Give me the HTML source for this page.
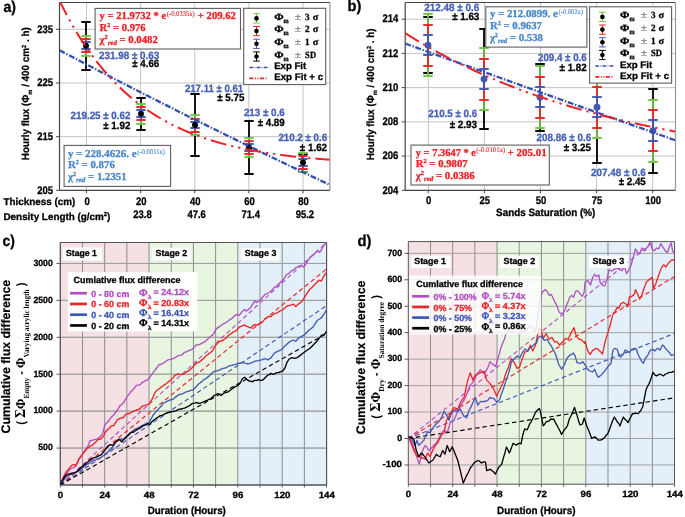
<!DOCTYPE html>
<html><head><meta charset="utf-8"><title>Figure</title>
<style>html,body{margin:0;padding:0;background:#fff;}svg{display:block;} text{text-rendering:geometricPrecision;}</style>
</head><body>
<svg style="filter:blur(0.3px)" width="685" height="517" viewBox="0 0 685 517">
<rect x="0" y="0" width="685" height="517" fill="#fff"/>
<line x1="86.5" y1="2.5" x2="86.5" y2="190.3" stroke="#c4c4c4" stroke-width="1" />
<line x1="140.62" y1="2.5" x2="140.62" y2="190.3" stroke="#c4c4c4" stroke-width="1" />
<line x1="194.74" y1="2.5" x2="194.74" y2="190.3" stroke="#c4c4c4" stroke-width="1" />
<line x1="248.86" y1="2.5" x2="248.86" y2="190.3" stroke="#c4c4c4" stroke-width="1" />
<line x1="302.98" y1="2.5" x2="302.98" y2="190.3" stroke="#c4c4c4" stroke-width="1" />
<line x1="59.5" y1="136.65" x2="329.9" y2="136.65" stroke="#c4c4c4" stroke-width="1" />
<line x1="59.5" y1="83" x2="329.9" y2="83" stroke="#c4c4c4" stroke-width="1" />
<line x1="59.5" y1="29.35" x2="329.9" y2="29.35" stroke="#c4c4c4" stroke-width="1" />
<line x1="59.5" y1="2.5" x2="329.9" y2="2.5" stroke="#444" stroke-width="1" />
<line x1="329.9" y1="2.5" x2="329.9" y2="190.3" stroke="#999" stroke-width="1.2" />
<line x1="59.5" y1="2.5" x2="59.5" y2="190.3" stroke="#444" stroke-width="1.2" />
<line x1="59.5" y1="190.3" x2="329.9" y2="190.3" stroke="#444" stroke-width="1.2" />
<line x1="56.1" y1="190.3" x2="59.5" y2="190.3" stroke="#444" stroke-width="1" />
<text x="37.19" y="193.5" font-family='"Liberation Sans", sans-serif' font-size="11.0" font-weight="bold" fill="#000" stroke="#000" stroke-width="0.3" textLength="15.81" lengthAdjust="spacingAndGlyphs" >205</text>
<line x1="56.1" y1="136.65" x2="59.5" y2="136.65" stroke="#444" stroke-width="1" />
<text x="37.19" y="139.85" font-family='"Liberation Sans", sans-serif' font-size="11.0" font-weight="bold" fill="#000" stroke="#000" stroke-width="0.3" textLength="15.81" lengthAdjust="spacingAndGlyphs" >215</text>
<line x1="56.1" y1="83" x2="59.5" y2="83" stroke="#444" stroke-width="1" />
<text x="37.19" y="86.2" font-family='"Liberation Sans", sans-serif' font-size="11.0" font-weight="bold" fill="#000" stroke="#000" stroke-width="0.3" textLength="15.81" lengthAdjust="spacingAndGlyphs" >225</text>
<line x1="56.1" y1="29.35" x2="59.5" y2="29.35" stroke="#444" stroke-width="1" />
<text x="37.19" y="32.55" font-family='"Liberation Sans", sans-serif' font-size="11.0" font-weight="bold" fill="#000" stroke="#000" stroke-width="0.3" textLength="15.81" lengthAdjust="spacingAndGlyphs" >235</text>
<line x1="86.5" y1="190.3" x2="86.5" y2="193.3" stroke="#444" stroke-width="1" />
<line x1="140.62" y1="190.3" x2="140.62" y2="193.3" stroke="#444" stroke-width="1" />
<line x1="194.74" y1="190.3" x2="194.74" y2="193.3" stroke="#444" stroke-width="1" />
<line x1="248.86" y1="190.3" x2="248.86" y2="193.3" stroke="#444" stroke-width="1" />
<line x1="302.98" y1="190.3" x2="302.98" y2="193.3" stroke="#444" stroke-width="1" />
<text x="3.5" y="204.7" font-family='"Liberation Sans", sans-serif' font-size="10.0" font-weight="bold" fill="#000" stroke="#000" stroke-width="0.3" textLength="71.8" lengthAdjust="spacingAndGlyphs" >Thickness (cm)</text>
<text x="3.5" y="219.9" font-family='"Liberation Sans", sans-serif' font-size="10.0" font-weight="bold" fill="#000" stroke="#000" stroke-width="0.3" textLength="106.9" lengthAdjust="spacingAndGlyphs" >Density Length (g/cm<tspan font-size="6" dy="-3.5">2</tspan><tspan dy="3.5">)</tspan></text>
<text x="84.46" y="204.7" font-family='"Liberation Sans", sans-serif' font-size="11.0" font-weight="bold" fill="#000" stroke="#000" stroke-width="0.3" textLength="5.27" lengthAdjust="spacingAndGlyphs" >0</text>
<text x="135.95" y="204.7" font-family='"Liberation Sans", sans-serif' font-size="11.0" font-weight="bold" fill="#000" stroke="#000" stroke-width="0.3" textLength="10.54" lengthAdjust="spacingAndGlyphs" >20</text>
<text x="190.07" y="204.7" font-family='"Liberation Sans", sans-serif' font-size="11.0" font-weight="bold" fill="#000" stroke="#000" stroke-width="0.3" textLength="10.54" lengthAdjust="spacingAndGlyphs" >40</text>
<text x="244.19" y="204.7" font-family='"Liberation Sans", sans-serif' font-size="11.0" font-weight="bold" fill="#000" stroke="#000" stroke-width="0.3" textLength="10.54" lengthAdjust="spacingAndGlyphs" >60</text>
<text x="298.31" y="204.7" font-family='"Liberation Sans", sans-serif' font-size="11.0" font-weight="bold" fill="#000" stroke="#000" stroke-width="0.3" textLength="10.54" lengthAdjust="spacingAndGlyphs" >80</text>
<text x="133.3" y="218.4" font-family='"Liberation Sans", sans-serif' font-size="11.0" font-weight="bold" fill="#000" stroke="#000" stroke-width="0.3" textLength="18.44" lengthAdjust="spacingAndGlyphs" >23.8</text>
<text x="187.42" y="218.4" font-family='"Liberation Sans", sans-serif' font-size="11.0" font-weight="bold" fill="#000" stroke="#000" stroke-width="0.3" textLength="18.44" lengthAdjust="spacingAndGlyphs" >47.6</text>
<text x="241.54" y="218.4" font-family='"Liberation Sans", sans-serif' font-size="11.0" font-weight="bold" fill="#000" stroke="#000" stroke-width="0.3" textLength="18.45" lengthAdjust="spacingAndGlyphs" >71.4</text>
<text x="295.66" y="218.4" font-family='"Liberation Sans", sans-serif' font-size="11.0" font-weight="bold" fill="#000" stroke="#000" stroke-width="0.3" textLength="18.45" lengthAdjust="spacingAndGlyphs" >95.2</text>
<text x="3.5" y="11.6" font-family='"Liberation Sans", sans-serif' font-size="15.5" font-weight="bold" fill="#000" stroke="#000" stroke-width="0.3" textLength="12.5" lengthAdjust="spacingAndGlyphs" >a)</text>
<text transform="translate(29.0,160.2) rotate(-90)" font-family='"Liberation Sans", sans-serif' font-size="10.4" font-weight="bold" stroke="#000" stroke-width="0.25" textLength="132.9" lengthAdjust="spacingAndGlyphs">Hourly flux (&#934;<tspan font-size="6" dy="2.5">m</tspan><tspan dy="-2.5"> / 400 cm</tspan><tspan font-size="6" dy="-3.5">2</tspan><tspan dy="3.5"> . h)</tspan></text>
<line x1="86" y1="22" x2="86" y2="70" stroke="#000" stroke-width="1.8" />
<line x1="81.3" y1="22" x2="90.7" y2="22" stroke="#000" stroke-width="1.9" />
<line x1="81.3" y1="70" x2="90.7" y2="70" stroke="#000" stroke-width="1.9" />
<line x1="86" y1="36" x2="86" y2="56" stroke="#6cc644" stroke-width="1.8" />
<line x1="81.3" y1="36" x2="90.7" y2="36" stroke="#6cc644" stroke-width="1.9" />
<line x1="81.3" y1="56" x2="90.7" y2="56" stroke="#6cc644" stroke-width="1.9" />
<line x1="86" y1="39" x2="86" y2="52" stroke="#ec2227" stroke-width="1.8" />
<line x1="81.3" y1="39" x2="90.7" y2="39" stroke="#ec2227" stroke-width="1.9" />
<line x1="81.3" y1="52" x2="90.7" y2="52" stroke="#ec2227" stroke-width="1.9" />
<line x1="86" y1="42" x2="86" y2="49" stroke="#3f57b5" stroke-width="1.8" />
<line x1="81.3" y1="42" x2="90.7" y2="42" stroke="#3f57b5" stroke-width="1.9" />
<line x1="81.3" y1="49" x2="90.7" y2="49" stroke="#3f57b5" stroke-width="1.9" />
<circle cx="86" cy="45.7" r="3" fill="#000"/>
<line x1="141" y1="98" x2="141" y2="130" stroke="#000" stroke-width="1.8" />
<line x1="136.3" y1="98" x2="145.7" y2="98" stroke="#000" stroke-width="1.9" />
<line x1="136.3" y1="130" x2="145.7" y2="130" stroke="#000" stroke-width="1.9" />
<line x1="141" y1="104" x2="141" y2="124" stroke="#6cc644" stroke-width="1.8" />
<line x1="136.3" y1="104" x2="145.7" y2="104" stroke="#6cc644" stroke-width="1.9" />
<line x1="136.3" y1="124" x2="145.7" y2="124" stroke="#6cc644" stroke-width="1.9" />
<line x1="141" y1="107" x2="141" y2="120" stroke="#ec2227" stroke-width="1.8" />
<line x1="136.3" y1="107" x2="145.7" y2="107" stroke="#ec2227" stroke-width="1.9" />
<line x1="136.3" y1="120" x2="145.7" y2="120" stroke="#ec2227" stroke-width="1.9" />
<line x1="141" y1="110" x2="141" y2="117" stroke="#3f57b5" stroke-width="1.8" />
<line x1="136.3" y1="110" x2="145.7" y2="110" stroke="#3f57b5" stroke-width="1.9" />
<line x1="136.3" y1="117" x2="145.7" y2="117" stroke="#3f57b5" stroke-width="1.9" />
<circle cx="141" cy="113.8" r="3" fill="#000"/>
<line x1="195" y1="94" x2="195" y2="156" stroke="#000" stroke-width="1.8" />
<line x1="190.3" y1="94" x2="199.7" y2="94" stroke="#000" stroke-width="1.9" />
<line x1="190.3" y1="156" x2="199.7" y2="156" stroke="#000" stroke-width="1.9" />
<line x1="195" y1="115" x2="195" y2="135" stroke="#6cc644" stroke-width="1.8" />
<line x1="190.3" y1="115" x2="199.7" y2="115" stroke="#6cc644" stroke-width="1.9" />
<line x1="190.3" y1="135" x2="199.7" y2="135" stroke="#6cc644" stroke-width="1.9" />
<line x1="195" y1="119" x2="195" y2="132" stroke="#ec2227" stroke-width="1.8" />
<line x1="190.3" y1="119" x2="199.7" y2="119" stroke="#ec2227" stroke-width="1.9" />
<line x1="190.3" y1="132" x2="199.7" y2="132" stroke="#ec2227" stroke-width="1.9" />
<line x1="195" y1="122" x2="195" y2="128" stroke="#3f57b5" stroke-width="1.8" />
<line x1="190.3" y1="122" x2="199.7" y2="122" stroke="#3f57b5" stroke-width="1.9" />
<line x1="190.3" y1="128" x2="199.7" y2="128" stroke="#3f57b5" stroke-width="1.9" />
<circle cx="195" cy="125.1" r="3" fill="#000"/>
<line x1="249" y1="121" x2="249" y2="174" stroke="#000" stroke-width="1.8" />
<line x1="244.3" y1="121" x2="253.7" y2="121" stroke="#000" stroke-width="1.9" />
<line x1="244.3" y1="174" x2="253.7" y2="174" stroke="#000" stroke-width="1.9" />
<line x1="249" y1="138" x2="249" y2="157" stroke="#6cc644" stroke-width="1.8" />
<line x1="244.3" y1="138" x2="253.7" y2="138" stroke="#6cc644" stroke-width="1.9" />
<line x1="244.3" y1="157" x2="253.7" y2="157" stroke="#6cc644" stroke-width="1.9" />
<line x1="249" y1="141" x2="249" y2="154" stroke="#ec2227" stroke-width="1.8" />
<line x1="244.3" y1="141" x2="253.7" y2="141" stroke="#ec2227" stroke-width="1.9" />
<line x1="244.3" y1="154" x2="253.7" y2="154" stroke="#ec2227" stroke-width="1.9" />
<line x1="249" y1="144" x2="249" y2="151" stroke="#3f57b5" stroke-width="1.8" />
<line x1="244.3" y1="144" x2="253.7" y2="144" stroke="#3f57b5" stroke-width="1.9" />
<line x1="244.3" y1="151" x2="253.7" y2="151" stroke="#3f57b5" stroke-width="1.9" />
<circle cx="249" cy="147.6" r="3" fill="#000"/>
<line x1="303" y1="154" x2="303" y2="172" stroke="#000" stroke-width="1.8" />
<line x1="298.3" y1="154" x2="307.7" y2="154" stroke="#000" stroke-width="1.9" />
<line x1="298.3" y1="172" x2="307.7" y2="172" stroke="#000" stroke-width="1.9" />
<line x1="303" y1="153" x2="303" y2="172" stroke="#6cc644" stroke-width="1.8" />
<line x1="298.3" y1="153" x2="307.7" y2="153" stroke="#6cc644" stroke-width="1.9" />
<line x1="298.3" y1="172" x2="307.7" y2="172" stroke="#6cc644" stroke-width="1.9" />
<line x1="303" y1="156" x2="303" y2="169" stroke="#ec2227" stroke-width="1.8" />
<line x1="298.3" y1="156" x2="307.7" y2="156" stroke="#ec2227" stroke-width="1.9" />
<line x1="298.3" y1="169" x2="307.7" y2="169" stroke="#ec2227" stroke-width="1.9" />
<line x1="303" y1="159" x2="303" y2="166" stroke="#3f57b5" stroke-width="1.8" />
<line x1="298.3" y1="159" x2="307.7" y2="159" stroke="#3f57b5" stroke-width="1.9" />
<line x1="298.3" y1="166" x2="307.7" y2="166" stroke="#3f57b5" stroke-width="1.9" />
<circle cx="303" cy="162.6" r="3" fill="#000"/>
<clipPath id="ca"><rect x="59.5" y="2.5" width="270.4" height="187.8"/></clipPath>
<g clip-path="url(#ca)">
<polyline points="59.5,50.28 61.5,51.33 63.5,52.38 65.5,53.44 67.5,54.49 69.5,55.54 71.5,56.58 73.5,57.63 75.5,58.68 77.5,59.73 79.5,60.77 81.5,61.82 83.5,62.86 85.5,63.9 87.5,64.94 89.5,65.98 91.5,67.02 93.5,68.06 95.5,69.1 97.5,70.14 99.5,71.18 101.5,72.21 103.5,73.25 105.5,74.28 107.5,75.31 109.5,76.35 111.5,77.38 113.5,78.41 115.5,79.44 117.5,80.47 119.5,81.49 121.5,82.52 123.5,83.55 125.5,84.57 127.5,85.6 129.5,86.62 131.5,87.64 133.5,88.66 135.5,89.68 137.5,90.7 139.5,91.72 141.5,92.74 143.5,93.76 145.5,94.77 147.5,95.79 149.5,96.8 151.5,97.82 153.5,98.83 155.5,99.84 157.5,100.85 159.5,101.87 161.5,102.87 163.5,103.88 165.5,104.89 167.5,105.9 169.5,106.9 171.5,107.91 173.5,108.91 175.5,109.92 177.5,110.92 179.5,111.92 181.5,112.92 183.5,113.92 185.5,114.92 187.5,115.92 189.5,116.92 191.5,117.92 193.5,118.91 195.5,119.91 197.5,120.9 199.5,121.89 201.5,122.89 203.5,123.88 205.5,124.87 207.5,125.86 209.5,126.85 211.5,127.84 213.5,128.82 215.5,129.81 217.5,130.8 219.5,131.78 221.5,132.77 223.5,133.75 225.5,134.73 227.5,135.71 229.5,136.69 231.5,137.67 233.5,138.65 235.5,139.63 237.5,140.61 239.5,141.59 241.5,142.56 243.5,143.54 245.5,144.51 247.5,145.48 249.5,146.46 251.5,147.43 253.5,148.4 255.5,149.37 257.5,150.34 259.5,151.31 261.5,152.27 263.5,153.24 265.5,154.21 267.5,155.17 269.5,156.14 271.5,157.1 273.5,158.06 275.5,159.02 277.5,159.98 279.5,160.94 281.5,161.9 283.5,162.86 285.5,163.82 287.5,164.78 289.5,165.73 291.5,166.69 293.5,167.64 295.5,168.6 297.5,169.55 299.5,170.5 301.5,171.45 303.5,172.4 305.5,173.35 307.5,174.3 309.5,175.25 311.5,176.2 313.5,177.14 315.5,178.09 317.5,179.03 319.5,179.98 321.5,180.92 323.5,181.86 325.5,182.8 327.5,183.75 329.5,184.69" fill="none" stroke="#3450b0" stroke-width="2.3" stroke-linejoin="round" stroke-dasharray="6 1.7 1.4 1.7"/>
<polyline points="59.5,0.84 61.5,4.87 63.5,8.79 65.5,12.63 67.5,16.37 69.5,20.01 71.5,23.57 73.5,27.04 75.5,30.43 77.5,33.73 79.5,36.96 81.5,40.1 83.5,43.17 85.5,46.16 87.5,49.08 89.5,51.93 91.5,54.7 93.5,57.41 95.5,60.06 97.5,62.64 99.5,65.15 101.5,67.61 103.5,70 105.5,72.34 107.5,74.62 109.5,76.84 111.5,79.01 113.5,81.12 115.5,83.19 117.5,85.2 119.5,87.16 121.5,89.08 123.5,90.95 125.5,92.77 127.5,94.55 129.5,96.29 131.5,97.98 133.5,99.63 135.5,101.24 137.5,102.81 139.5,104.35 141.5,105.84 143.5,107.3 145.5,108.73 147.5,110.12 149.5,111.47 151.5,112.79 153.5,114.08 155.5,115.34 157.5,116.57 159.5,117.76 161.5,118.93 163.5,120.07 165.5,121.18 167.5,122.27 169.5,123.32 171.5,124.36 173.5,125.36 175.5,126.34 177.5,127.3 179.5,128.24 181.5,129.15 183.5,130.04 185.5,130.9 187.5,131.75 189.5,132.58 191.5,133.38 193.5,134.17 195.5,134.93 197.5,135.68 199.5,136.41 201.5,137.12 203.5,137.82 205.5,138.5 207.5,139.16 209.5,139.8 211.5,140.43 213.5,141.04 215.5,141.64 217.5,142.23 219.5,142.79 221.5,143.35 223.5,143.89 225.5,144.42 227.5,144.94 229.5,145.44 231.5,145.93 233.5,146.41 235.5,146.88 237.5,147.33 239.5,147.78 241.5,148.21 243.5,148.63 245.5,149.05 247.5,149.45 249.5,149.84 251.5,150.23 253.5,150.6 255.5,150.96 257.5,151.32 259.5,151.67 261.5,152.01 263.5,152.34 265.5,152.66 267.5,152.97 269.5,153.28 271.5,153.58 273.5,153.87 275.5,154.16 277.5,154.43 279.5,154.7 281.5,154.97 283.5,155.23 285.5,155.48 287.5,155.72 289.5,155.96 291.5,156.2 293.5,156.42 295.5,156.65 297.5,156.86 299.5,157.08 301.5,157.28 303.5,157.48 305.5,157.68 307.5,157.87 309.5,158.06 311.5,158.24 313.5,158.42 315.5,158.59 317.5,158.76 319.5,158.93 321.5,159.09 323.5,159.24 325.5,159.4 327.5,159.55 329.5,159.69" fill="none" stroke="#ec2227" stroke-width="2.0" stroke-linejoin="round" stroke-dasharray="16 5 2.2 5 2.2 5"/>
</g>
<rect x="95.1" y="8.4" width="145.4" height="40.6" fill="#fff" stroke="#5e5e5e" stroke-width="1.1" />
<text x="99.6" y="19.4" font-family='"Liberation Serif", serif' font-size="10.6" font-weight="bold" fill="#ec2227" stroke="#ec2227" stroke-width="0.3" textLength="66.6" lengthAdjust="spacingAndGlyphs" >y = 21.9732 * e</text>
<text x="166.8" y="16" font-family='"Liberation Serif", serif' font-size="7.0" font-weight="normal" fill="#ec2227" stroke="#ec2227" stroke-width="0.12" textLength="27.9" lengthAdjust="spacingAndGlyphs" >(-0.0335x)</text>
<text x="197.8" y="19.4" font-family='"Liberation Serif", serif' font-size="10.6" font-weight="bold" fill="#ec2227" stroke="#ec2227" stroke-width="0.3" textLength="38.1" lengthAdjust="spacingAndGlyphs" >+ 209.62</text>
<text x="99.6" y="31.2" font-family='"Liberation Serif", serif' font-size="10.6" font-weight="bold" fill="#ec2227" stroke="#ec2227" stroke-width="0.3" textLength="46" lengthAdjust="spacingAndGlyphs" >R<tspan font-size="6.2" dy="-4">2</tspan><tspan dy="4"> = 0.976</tspan></text>
<text x="99.6" y="42.8" font-family='"Liberation Serif", serif' font-size="10.6" font-weight="bold" fill="#ec2227" stroke="#ec2227" stroke-width="0.3" textLength="58.2" lengthAdjust="spacingAndGlyphs" >&#967;<tspan font-size="6.2" dy="-4">2</tspan><tspan font-size="6.8" font-style="italic" dy="6">red</tspan><tspan dy="-2"> = 0.0482</tspan></text>
<rect x="64.1" y="145.4" width="106.5" height="41" fill="#fff" stroke="#5e5e5e" stroke-width="1.1" />
<text x="67.9" y="156.9" font-family='"Liberation Serif", serif' font-size="10.6" font-weight="bold" fill="#4a87c9" stroke="#4a87c9" stroke-width="0.3" textLength="68.6" lengthAdjust="spacingAndGlyphs" >y = 228.4626. e</text>
<text x="137.3" y="153.5" font-family='"Liberation Serif", serif' font-size="7.0" font-weight="normal" fill="#4a87c9" stroke="#4a87c9" stroke-width="0.12" textLength="27.6" lengthAdjust="spacingAndGlyphs" >(-0.0011x)</text>
<text x="67.9" y="168.4" font-family='"Liberation Serif", serif' font-size="10.6" font-weight="bold" fill="#4a87c9" stroke="#4a87c9" stroke-width="0.3" textLength="46.9" lengthAdjust="spacingAndGlyphs" >R<tspan font-size="6.2" dy="-4">2</tspan><tspan dy="4"> = 0.876</tspan></text>
<text x="67.9" y="179.9" font-family='"Liberation Serif", serif' font-size="10.6" font-weight="bold" fill="#4a87c9" stroke="#4a87c9" stroke-width="0.3" textLength="58.8" lengthAdjust="spacingAndGlyphs" >&#967;<tspan font-size="6.2" dy="-4">2</tspan><tspan font-size="6.8" font-style="italic" dy="6">red</tspan><tspan dy="-2"> = 1.2351</tspan></text>
<rect x="243.7" y="8.3" width="82" height="76.3" fill="#fff" stroke="#5e5e5e" stroke-width="1.1" />
<line x1="256.5" y1="13.8" x2="256.5" y2="23" stroke="#6cc644" stroke-width="1" />
<line x1="253.2" y1="13.8" x2="259.8" y2="13.8" stroke="#6cc644" stroke-width="1" />
<line x1="253.2" y1="23" x2="259.8" y2="23" stroke="#6cc644" stroke-width="1" />
<circle cx="256.5" cy="18.4" r="2.3" fill="#000"/>
<text x="274.2" y="19.7" font-family='"Liberation Serif", serif' font-size="9.6" font-weight="bold" fill="#000" stroke="#000" stroke-width="0.3" textLength="9.4" lengthAdjust="spacingAndGlyphs" >&#934;</text>
<text x="283.5" y="22.7" font-family='"Liberation Serif", serif' font-size="7.0" font-weight="bold" fill="#000" stroke="#000" stroke-width="0.3" textLength="5.1" lengthAdjust="spacingAndGlyphs" >m</text>
<text x="294.6" y="19.7" font-family='"Liberation Serif", serif' font-size="9.6" font-weight="normal" fill="#666" stroke="#666" stroke-width="0.15" textLength="6.8" lengthAdjust="spacingAndGlyphs" >&#177;</text>
<text x="305.1" y="19.7" font-family='"Liberation Serif", serif' font-size="9.6" font-weight="bold" fill="#000" stroke="#000" stroke-width="0.3" textLength="4.6" lengthAdjust="spacingAndGlyphs" >3</text>
<text x="312.7" y="19.7" font-family='"Liberation Serif", serif' font-size="9.6" font-weight="bold" fill="#000" stroke="#000" stroke-width="0.3" textLength="5.6" lengthAdjust="spacingAndGlyphs" >&#963;</text>
<line x1="256.5" y1="26.5" x2="256.5" y2="35.7" stroke="#ec2227" stroke-width="1" />
<line x1="253.2" y1="26.5" x2="259.8" y2="26.5" stroke="#ec2227" stroke-width="1" />
<line x1="253.2" y1="35.7" x2="259.8" y2="35.7" stroke="#ec2227" stroke-width="1" />
<circle cx="256.5" cy="31.1" r="2.3" fill="#000"/>
<text x="274.2" y="32.4" font-family='"Liberation Serif", serif' font-size="9.6" font-weight="bold" fill="#000" stroke="#000" stroke-width="0.3" textLength="9.4" lengthAdjust="spacingAndGlyphs" >&#934;</text>
<text x="283.5" y="35.4" font-family='"Liberation Serif", serif' font-size="7.0" font-weight="bold" fill="#000" stroke="#000" stroke-width="0.3" textLength="5.1" lengthAdjust="spacingAndGlyphs" >m</text>
<text x="294.6" y="32.4" font-family='"Liberation Serif", serif' font-size="9.6" font-weight="normal" fill="#666" stroke="#666" stroke-width="0.15" textLength="6.8" lengthAdjust="spacingAndGlyphs" >&#177;</text>
<text x="305.1" y="32.4" font-family='"Liberation Serif", serif' font-size="9.6" font-weight="bold" fill="#000" stroke="#000" stroke-width="0.3" textLength="4.6" lengthAdjust="spacingAndGlyphs" >2</text>
<text x="312.7" y="32.4" font-family='"Liberation Serif", serif' font-size="9.6" font-weight="bold" fill="#000" stroke="#000" stroke-width="0.3" textLength="5.6" lengthAdjust="spacingAndGlyphs" >&#963;</text>
<line x1="256.5" y1="39.2" x2="256.5" y2="48.4" stroke="#3f57b5" stroke-width="1" />
<line x1="253.2" y1="39.2" x2="259.8" y2="39.2" stroke="#3f57b5" stroke-width="1" />
<line x1="253.2" y1="48.4" x2="259.8" y2="48.4" stroke="#3f57b5" stroke-width="1" />
<circle cx="256.5" cy="43.8" r="2.3" fill="#000"/>
<text x="274.2" y="45.1" font-family='"Liberation Serif", serif' font-size="9.6" font-weight="bold" fill="#000" stroke="#000" stroke-width="0.3" textLength="9.4" lengthAdjust="spacingAndGlyphs" >&#934;</text>
<text x="283.5" y="48.1" font-family='"Liberation Serif", serif' font-size="7.0" font-weight="bold" fill="#000" stroke="#000" stroke-width="0.3" textLength="5.1" lengthAdjust="spacingAndGlyphs" >m</text>
<text x="294.6" y="45.1" font-family='"Liberation Serif", serif' font-size="9.6" font-weight="normal" fill="#666" stroke="#666" stroke-width="0.15" textLength="6.8" lengthAdjust="spacingAndGlyphs" >&#177;</text>
<text x="305.1" y="45.1" font-family='"Liberation Serif", serif' font-size="9.6" font-weight="bold" fill="#000" stroke="#000" stroke-width="0.3" textLength="4.6" lengthAdjust="spacingAndGlyphs" >1</text>
<text x="312.7" y="45.1" font-family='"Liberation Serif", serif' font-size="9.6" font-weight="bold" fill="#000" stroke="#000" stroke-width="0.3" textLength="5.6" lengthAdjust="spacingAndGlyphs" >&#963;</text>
<line x1="256.5" y1="51.9" x2="256.5" y2="61.1" stroke="#000" stroke-width="1" />
<line x1="253.2" y1="51.9" x2="259.8" y2="51.9" stroke="#000" stroke-width="1" />
<line x1="253.2" y1="61.1" x2="259.8" y2="61.1" stroke="#000" stroke-width="1" />
<circle cx="256.5" cy="56.5" r="2.3" fill="#000"/>
<text x="274.2" y="57.8" font-family='"Liberation Serif", serif' font-size="9.6" font-weight="bold" fill="#000" stroke="#000" stroke-width="0.3" textLength="9.4" lengthAdjust="spacingAndGlyphs" >&#934;</text>
<text x="283.5" y="60.8" font-family='"Liberation Serif", serif' font-size="7.0" font-weight="bold" fill="#000" stroke="#000" stroke-width="0.3" textLength="5.1" lengthAdjust="spacingAndGlyphs" >m</text>
<text x="294.6" y="57.8" font-family='"Liberation Serif", serif' font-size="9.6" font-weight="normal" fill="#666" stroke="#666" stroke-width="0.15" textLength="6.8" lengthAdjust="spacingAndGlyphs" >&#177;</text>
<text x="305.1" y="57.8" font-family='"Liberation Serif", serif' font-size="9.6" font-weight="bold" fill="#000" stroke="#000" stroke-width="0.3" textLength="11" lengthAdjust="spacingAndGlyphs" >SD</text>
<line x1="249.4" y1="67.5" x2="267.5" y2="67.5" stroke="#3450b0" stroke-width="1.4" stroke-dasharray="3.8 1.3 0.8 1.3"/>
<line x1="249.4" y1="78.3" x2="267.5" y2="78.3" stroke="#ec2227" stroke-width="1.8" stroke-dasharray="4 1.5 1 1.5 1 1.5"/>
<text x="274.2" y="69.3" font-family='"Liberation Sans", sans-serif' font-size="9.6" font-weight="bold" fill="#000" stroke="#000" stroke-width="0.3" textLength="32" lengthAdjust="spacingAndGlyphs" >Exp Fit</text>
<text x="274.2" y="80.1" font-family='"Liberation Sans", sans-serif' font-size="9.6" font-weight="bold" fill="#000" stroke="#000" stroke-width="0.3" textLength="49" lengthAdjust="spacingAndGlyphs" >Exp Fit + c</text>
<line x1="428.3" y1="2.5" x2="428.3" y2="190.3" stroke="#c4c4c4" stroke-width="1" />
<line x1="484.4" y1="2.5" x2="484.4" y2="190.3" stroke="#c4c4c4" stroke-width="1" />
<line x1="540.5" y1="2.5" x2="540.5" y2="190.3" stroke="#c4c4c4" stroke-width="1" />
<line x1="596.6" y1="2.5" x2="596.6" y2="190.3" stroke="#c4c4c4" stroke-width="1" />
<line x1="652.7" y1="2.5" x2="652.7" y2="190.3" stroke="#c4c4c4" stroke-width="1" />
<line x1="405.2" y1="156.08" x2="675.5" y2="156.08" stroke="#c4c4c4" stroke-width="1" />
<line x1="405.2" y1="121.86" x2="675.5" y2="121.86" stroke="#c4c4c4" stroke-width="1" />
<line x1="405.2" y1="87.64" x2="675.5" y2="87.64" stroke="#c4c4c4" stroke-width="1" />
<line x1="405.2" y1="53.42" x2="675.5" y2="53.42" stroke="#c4c4c4" stroke-width="1" />
<line x1="405.2" y1="19.2" x2="675.5" y2="19.2" stroke="#c4c4c4" stroke-width="1" />
<line x1="405.2" y1="2.5" x2="675.5" y2="2.5" stroke="#444" stroke-width="1" />
<line x1="675.5" y1="2.5" x2="675.5" y2="190.3" stroke="#999" stroke-width="1.2" />
<line x1="405.2" y1="2.5" x2="405.2" y2="190.3" stroke="#444" stroke-width="1.2" />
<line x1="405.2" y1="190.3" x2="675.5" y2="190.3" stroke="#444" stroke-width="1.2" />
<line x1="401.8" y1="190.3" x2="405.2" y2="190.3" stroke="#444" stroke-width="1" />
<text x="382.59" y="193.5" font-family='"Liberation Sans", sans-serif' font-size="11.0" font-weight="bold" fill="#000" stroke="#000" stroke-width="0.3" textLength="15.81" lengthAdjust="spacingAndGlyphs" >204</text>
<line x1="401.8" y1="156.08" x2="405.2" y2="156.08" stroke="#444" stroke-width="1" />
<text x="382.59" y="159.28" font-family='"Liberation Sans", sans-serif' font-size="11.0" font-weight="bold" fill="#000" stroke="#000" stroke-width="0.3" textLength="15.81" lengthAdjust="spacingAndGlyphs" >206</text>
<line x1="401.8" y1="121.86" x2="405.2" y2="121.86" stroke="#444" stroke-width="1" />
<text x="382.59" y="125.06" font-family='"Liberation Sans", sans-serif' font-size="11.0" font-weight="bold" fill="#000" stroke="#000" stroke-width="0.3" textLength="15.81" lengthAdjust="spacingAndGlyphs" >208</text>
<line x1="401.8" y1="87.64" x2="405.2" y2="87.64" stroke="#444" stroke-width="1" />
<text x="382.59" y="90.84" font-family='"Liberation Sans", sans-serif' font-size="11.0" font-weight="bold" fill="#000" stroke="#000" stroke-width="0.3" textLength="15.81" lengthAdjust="spacingAndGlyphs" >210</text>
<line x1="401.8" y1="53.42" x2="405.2" y2="53.42" stroke="#444" stroke-width="1" />
<text x="382.59" y="56.62" font-family='"Liberation Sans", sans-serif' font-size="11.0" font-weight="bold" fill="#000" stroke="#000" stroke-width="0.3" textLength="15.81" lengthAdjust="spacingAndGlyphs" >212</text>
<line x1="401.8" y1="19.2" x2="405.2" y2="19.2" stroke="#444" stroke-width="1" />
<text x="382.59" y="22.4" font-family='"Liberation Sans", sans-serif' font-size="11.0" font-weight="bold" fill="#000" stroke="#000" stroke-width="0.3" textLength="15.81" lengthAdjust="spacingAndGlyphs" >214</text>
<line x1="428.3" y1="190.3" x2="428.3" y2="193.3" stroke="#444" stroke-width="1" />
<text x="426.06" y="204.2" font-family='"Liberation Sans", sans-serif' font-size="11.0" font-weight="bold" fill="#000" stroke="#000" stroke-width="0.3" textLength="5.27" lengthAdjust="spacingAndGlyphs" >0</text>
<line x1="484.4" y1="190.3" x2="484.4" y2="193.3" stroke="#444" stroke-width="1" />
<text x="479.53" y="204.2" font-family='"Liberation Sans", sans-serif' font-size="11.0" font-weight="bold" fill="#000" stroke="#000" stroke-width="0.3" textLength="10.54" lengthAdjust="spacingAndGlyphs" >25</text>
<line x1="540.5" y1="190.3" x2="540.5" y2="193.3" stroke="#444" stroke-width="1" />
<text x="535.63" y="204.2" font-family='"Liberation Sans", sans-serif' font-size="11.0" font-weight="bold" fill="#000" stroke="#000" stroke-width="0.3" textLength="10.54" lengthAdjust="spacingAndGlyphs" >50</text>
<line x1="596.6" y1="190.3" x2="596.6" y2="193.3" stroke="#444" stroke-width="1" />
<text x="591.73" y="204.2" font-family='"Liberation Sans", sans-serif' font-size="11.0" font-weight="bold" fill="#000" stroke="#000" stroke-width="0.3" textLength="10.54" lengthAdjust="spacingAndGlyphs" >75</text>
<line x1="652.7" y1="190.3" x2="652.7" y2="193.3" stroke="#444" stroke-width="1" />
<text x="645.2" y="204.2" font-family='"Liberation Sans", sans-serif' font-size="11.0" font-weight="bold" fill="#000" stroke="#000" stroke-width="0.3" textLength="15.81" lengthAdjust="spacingAndGlyphs" >100</text>
<text x="496.1" y="215.5" font-family='"Liberation Sans", sans-serif' font-size="10.6" font-weight="bold" fill="#000" stroke="#000" stroke-width="0.3" textLength="99.3" lengthAdjust="spacingAndGlyphs" >Sands Saturation (%)</text>
<text x="347.6" y="11.4" font-family='"Liberation Sans", sans-serif' font-size="15.5" font-weight="bold" fill="#000" stroke="#000" stroke-width="0.3" textLength="13.9" lengthAdjust="spacingAndGlyphs" >b)</text>
<text transform="translate(374.0,160.3) rotate(-90)" font-family='"Liberation Sans", sans-serif' font-size="10.4" font-weight="bold" stroke="#000" stroke-width="0.25" textLength="131.8" lengthAdjust="spacingAndGlyphs">Hourly flux (&#934;<tspan font-size="6" dy="2.5">m</tspan><tspan dy="-2.5"> / 400 cm</tspan><tspan font-size="6" dy="-3.5">2</tspan><tspan dy="3.5"> . h)</tspan></text>
<line x1="428" y1="17" x2="428" y2="73" stroke="#000" stroke-width="1.8" />
<line x1="423.2" y1="17" x2="432.8" y2="17" stroke="#000" stroke-width="1.9" />
<line x1="423.2" y1="73" x2="432.8" y2="73" stroke="#000" stroke-width="1.9" />
<line x1="428" y1="14" x2="428" y2="76" stroke="#6cc644" stroke-width="1.8" />
<line x1="423.2" y1="14" x2="432.8" y2="14" stroke="#6cc644" stroke-width="1.9" />
<line x1="423.2" y1="76" x2="432.8" y2="76" stroke="#6cc644" stroke-width="1.9" />
<line x1="428" y1="25" x2="428" y2="66" stroke="#ec2227" stroke-width="1.8" />
<line x1="423.2" y1="25" x2="432.8" y2="25" stroke="#ec2227" stroke-width="1.9" />
<line x1="423.2" y1="66" x2="432.8" y2="66" stroke="#ec2227" stroke-width="1.9" />
<line x1="428" y1="35" x2="428" y2="55" stroke="#3f57b5" stroke-width="1.8" />
<line x1="423.2" y1="35" x2="432.8" y2="35" stroke="#3f57b5" stroke-width="1.9" />
<line x1="423.2" y1="55" x2="432.8" y2="55" stroke="#3f57b5" stroke-width="1.9" />
<circle cx="428" cy="45.21" r="3.4" fill="#3f57b5"/>
<line x1="484" y1="29" x2="484" y2="129" stroke="#000" stroke-width="1.8" />
<line x1="479.2" y1="29" x2="488.8" y2="29" stroke="#000" stroke-width="1.9" />
<line x1="479.2" y1="129" x2="488.8" y2="129" stroke="#000" stroke-width="1.9" />
<line x1="484" y1="48" x2="484" y2="110" stroke="#6cc644" stroke-width="1.8" />
<line x1="479.2" y1="48" x2="488.8" y2="48" stroke="#6cc644" stroke-width="1.9" />
<line x1="479.2" y1="110" x2="488.8" y2="110" stroke="#6cc644" stroke-width="1.9" />
<line x1="484" y1="59" x2="484" y2="100" stroke="#ec2227" stroke-width="1.8" />
<line x1="479.2" y1="59" x2="488.8" y2="59" stroke="#ec2227" stroke-width="1.9" />
<line x1="479.2" y1="100" x2="488.8" y2="100" stroke="#ec2227" stroke-width="1.9" />
<line x1="484" y1="69" x2="484" y2="89" stroke="#3f57b5" stroke-width="1.8" />
<line x1="479.2" y1="69" x2="488.8" y2="69" stroke="#3f57b5" stroke-width="1.9" />
<line x1="479.2" y1="89" x2="488.8" y2="89" stroke="#3f57b5" stroke-width="1.9" />
<circle cx="484" cy="79.09" r="3.4" fill="#3f57b5"/>
<line x1="540" y1="64" x2="540" y2="131" stroke="#000" stroke-width="1.8" />
<line x1="535.2" y1="64" x2="544.8" y2="64" stroke="#000" stroke-width="1.9" />
<line x1="535.2" y1="131" x2="544.8" y2="131" stroke="#000" stroke-width="1.9" />
<line x1="540" y1="66" x2="540" y2="128" stroke="#6cc644" stroke-width="1.8" />
<line x1="535.2" y1="66" x2="544.8" y2="66" stroke="#6cc644" stroke-width="1.9" />
<line x1="535.2" y1="128" x2="544.8" y2="128" stroke="#6cc644" stroke-width="1.9" />
<line x1="540" y1="77" x2="540" y2="118" stroke="#ec2227" stroke-width="1.8" />
<line x1="535.2" y1="77" x2="544.8" y2="77" stroke="#ec2227" stroke-width="1.9" />
<line x1="535.2" y1="118" x2="544.8" y2="118" stroke="#ec2227" stroke-width="1.9" />
<line x1="540" y1="87" x2="540" y2="107" stroke="#3f57b5" stroke-width="1.8" />
<line x1="535.2" y1="87" x2="544.8" y2="87" stroke="#3f57b5" stroke-width="1.9" />
<line x1="535.2" y1="107" x2="544.8" y2="107" stroke="#3f57b5" stroke-width="1.9" />
<circle cx="540" cy="97.22" r="3.4" fill="#3f57b5"/>
<line x1="597" y1="52" x2="597" y2="163" stroke="#000" stroke-width="1.8" />
<line x1="592.2" y1="52" x2="601.8" y2="52" stroke="#000" stroke-width="1.9" />
<line x1="592.2" y1="163" x2="601.8" y2="163" stroke="#000" stroke-width="1.9" />
<line x1="597" y1="76" x2="597" y2="138" stroke="#6cc644" stroke-width="1.8" />
<line x1="592.2" y1="76" x2="601.8" y2="76" stroke="#6cc644" stroke-width="1.9" />
<line x1="592.2" y1="138" x2="601.8" y2="138" stroke="#6cc644" stroke-width="1.9" />
<line x1="597" y1="87" x2="597" y2="128" stroke="#ec2227" stroke-width="1.8" />
<line x1="592.2" y1="87" x2="601.8" y2="87" stroke="#ec2227" stroke-width="1.9" />
<line x1="592.2" y1="128" x2="601.8" y2="128" stroke="#ec2227" stroke-width="1.9" />
<line x1="597" y1="97" x2="597" y2="117" stroke="#3f57b5" stroke-width="1.8" />
<line x1="592.2" y1="97" x2="601.8" y2="97" stroke="#3f57b5" stroke-width="1.9" />
<line x1="592.2" y1="117" x2="601.8" y2="117" stroke="#3f57b5" stroke-width="1.9" />
<circle cx="597" cy="107.15" r="3.4" fill="#3f57b5"/>
<line x1="653" y1="89" x2="653" y2="173" stroke="#000" stroke-width="1.8" />
<line x1="648.2" y1="89" x2="657.8" y2="89" stroke="#000" stroke-width="1.9" />
<line x1="648.2" y1="173" x2="657.8" y2="173" stroke="#000" stroke-width="1.9" />
<line x1="653" y1="100" x2="653" y2="162" stroke="#6cc644" stroke-width="1.8" />
<line x1="648.2" y1="100" x2="657.8" y2="100" stroke="#6cc644" stroke-width="1.9" />
<line x1="648.2" y1="162" x2="657.8" y2="162" stroke="#6cc644" stroke-width="1.9" />
<line x1="653" y1="110" x2="653" y2="151" stroke="#ec2227" stroke-width="1.8" />
<line x1="648.2" y1="110" x2="657.8" y2="110" stroke="#ec2227" stroke-width="1.9" />
<line x1="648.2" y1="151" x2="657.8" y2="151" stroke="#ec2227" stroke-width="1.9" />
<line x1="653" y1="120" x2="653" y2="141" stroke="#3f57b5" stroke-width="1.8" />
<line x1="648.2" y1="120" x2="657.8" y2="120" stroke="#3f57b5" stroke-width="1.9" />
<line x1="648.2" y1="141" x2="657.8" y2="141" stroke="#3f57b5" stroke-width="1.9" />
<circle cx="653" cy="130.76" r="3.4" fill="#3f57b5"/>
<clipPath id="cb"><rect x="405.2" y="2.5" width="270.3" height="187.8"/></clipPath>
<g clip-path="url(#cb)">
<polyline points="405.2,43.5 407.2,44.23 409.2,44.96 411.2,45.68 413.2,46.41 415.2,47.13 417.2,47.86 419.2,48.58 421.2,49.31 423.2,50.03 425.2,50.76 427.2,51.48 429.2,52.21 431.2,52.93 433.2,53.66 435.2,54.38 437.2,55.1 439.2,55.83 441.2,56.55 443.2,57.28 445.2,58 447.2,58.72 449.2,59.44 451.2,60.17 453.2,60.89 455.2,61.61 457.2,62.34 459.2,63.06 461.2,63.78 463.2,64.5 465.2,65.22 467.2,65.95 469.2,66.67 471.2,67.39 473.2,68.11 475.2,68.83 477.2,69.55 479.2,70.27 481.2,70.99 483.2,71.71 485.2,72.43 487.2,73.16 489.2,73.88 491.2,74.6 493.2,75.32 495.2,76.03 497.2,76.75 499.2,77.47 501.2,78.19 503.2,78.91 505.2,79.63 507.2,80.35 509.2,81.07 511.2,81.79 513.2,82.51 515.2,83.22 517.2,83.94 519.2,84.66 521.2,85.38 523.2,86.1 525.2,86.81 527.2,87.53 529.2,88.25 531.2,88.97 533.2,89.68 535.2,90.4 537.2,91.12 539.2,91.83 541.2,92.55 543.2,93.27 545.2,93.98 547.2,94.7 549.2,95.41 551.2,96.13 553.2,96.84 555.2,97.56 557.2,98.28 559.2,98.99 561.2,99.71 563.2,100.42 565.2,101.14 567.2,101.85 569.2,102.56 571.2,103.28 573.2,103.99 575.2,104.71 577.2,105.42 579.2,106.13 581.2,106.85 583.2,107.56 585.2,108.27 587.2,108.99 589.2,109.7 591.2,110.41 593.2,111.13 595.2,111.84 597.2,112.55 599.2,113.26 601.2,113.98 603.2,114.69 605.2,115.4 607.2,116.11 609.2,116.82 611.2,117.53 613.2,118.25 615.2,118.96 617.2,119.67 619.2,120.38 621.2,121.09 623.2,121.8 625.2,122.51 627.2,123.22 629.2,123.93 631.2,124.64 633.2,125.35 635.2,126.06 637.2,126.77 639.2,127.48 641.2,128.19 643.2,128.9 645.2,129.61 647.2,130.32 649.2,131.02 651.2,131.73 653.2,132.44 655.2,133.15 657.2,133.86 659.2,134.57 661.2,135.27 663.2,135.98 665.2,136.69 667.2,137.4 669.2,138.1 671.2,138.81 673.2,139.52 675.2,140.23" fill="none" stroke="#3450b0" stroke-width="2.3" stroke-linejoin="round" stroke-dasharray="6 1.7 1.4 1.7"/>
<polyline points="405.2,33.2 407.2,34.46 409.2,35.7 411.2,36.93 413.2,38.15 415.2,39.36 417.2,40.55 419.2,41.74 421.2,42.92 423.2,44.08 425.2,45.24 427.2,46.38 429.2,47.52 431.2,48.64 433.2,49.76 435.2,50.86 437.2,51.96 439.2,53.04 441.2,54.12 443.2,55.18 445.2,56.24 447.2,57.28 449.2,58.32 451.2,59.35 453.2,60.37 455.2,61.38 457.2,62.38 459.2,63.37 461.2,64.35 463.2,65.33 465.2,66.29 467.2,67.25 469.2,68.2 471.2,69.14 473.2,70.07 475.2,70.99 477.2,71.9 479.2,72.81 481.2,73.71 483.2,74.6 485.2,75.48 487.2,76.35 489.2,77.22 491.2,78.08 493.2,78.93 495.2,79.77 497.2,80.61 499.2,81.44 501.2,82.26 503.2,83.07 505.2,83.88 507.2,84.67 509.2,85.47 511.2,86.25 513.2,87.03 515.2,87.8 517.2,88.56 519.2,89.32 521.2,90.07 523.2,90.81 525.2,91.55 527.2,92.28 529.2,93 531.2,93.72 533.2,94.43 535.2,95.14 537.2,95.83 539.2,96.52 541.2,97.21 543.2,97.89 545.2,98.56 547.2,99.23 549.2,99.89 551.2,100.55 553.2,101.2 555.2,101.84 557.2,102.48 559.2,103.11 561.2,103.74 563.2,104.36 565.2,104.97 567.2,105.58 569.2,106.19 571.2,106.79 573.2,107.38 575.2,107.97 577.2,108.55 579.2,109.13 581.2,109.7 583.2,110.27 585.2,110.83 587.2,111.39 589.2,111.94 591.2,112.49 593.2,113.03 595.2,113.57 597.2,114.1 599.2,114.63 601.2,115.15 603.2,115.67 605.2,116.18 607.2,116.69 609.2,117.2 611.2,117.7 613.2,118.19 615.2,118.69 617.2,119.17 619.2,119.65 621.2,120.13 623.2,120.61 625.2,121.08 627.2,121.54 629.2,122 631.2,122.46 633.2,122.91 635.2,123.36 637.2,123.81 639.2,124.25 641.2,124.69 643.2,125.12 645.2,125.55 647.2,125.97 649.2,126.39 651.2,126.81 653.2,127.23 655.2,127.64 657.2,128.04 659.2,128.45 661.2,128.85 663.2,129.24 665.2,129.63 667.2,130.02 669.2,130.41 671.2,130.79 673.2,131.17 675.2,131.54" fill="none" stroke="#ec2227" stroke-width="2.0" stroke-linejoin="round" stroke-dasharray="16 5 2.2 5 2.2 5"/>
</g>
<text x="99.1" y="59" font-family='"Liberation Sans", sans-serif' font-size="10.5" font-weight="bold" fill="#4560b8" stroke="#4560b8" stroke-width="0.3" textLength="60.1" lengthAdjust="spacingAndGlyphs" >231.98 &#177; 0.63</text>
<text x="70.6" y="119" font-family='"Liberation Sans", sans-serif' font-size="10.5" font-weight="bold" fill="#4560b8" stroke="#4560b8" stroke-width="0.3" textLength="59.8" lengthAdjust="spacingAndGlyphs" >219.25 &#177; 0.62</text>
<text x="184.9" y="91.5" font-family='"Liberation Sans", sans-serif' font-size="10.5" font-weight="bold" fill="#4560b8" stroke="#4560b8" stroke-width="0.3" textLength="58.3" lengthAdjust="spacingAndGlyphs" >217.11 &#177; 0.61</text>
<text x="243.9" y="116" font-family='"Liberation Sans", sans-serif' font-size="10.5" font-weight="bold" fill="#4560b8" stroke="#4560b8" stroke-width="0.3" textLength="40.8" lengthAdjust="spacingAndGlyphs" >213 &#177; 0.6</text>
<text x="278.4" y="141.3" font-family='"Liberation Sans", sans-serif' font-size="10.5" font-weight="bold" fill="#4560b8" stroke="#4560b8" stroke-width="0.3" textLength="48.7" lengthAdjust="spacingAndGlyphs" >210.2 &#177; 0.6</text>
<text x="424.3" y="11.2" font-family='"Liberation Sans", sans-serif' font-size="10.5" font-weight="bold" fill="#4560b8" stroke="#4560b8" stroke-width="0.3" textLength="55" lengthAdjust="spacingAndGlyphs" >212.48 &#177; 0.6</text>
<text x="428.3" y="117" font-family='"Liberation Sans", sans-serif' font-size="10.5" font-weight="bold" fill="#4560b8" stroke="#4560b8" stroke-width="0.3" textLength="48.8" lengthAdjust="spacingAndGlyphs" >210.5 &#177; 0.6</text>
<text x="538" y="61" font-family='"Liberation Sans", sans-serif' font-size="10.5" font-weight="bold" fill="#4560b8" stroke="#4560b8" stroke-width="0.3" textLength="48.7" lengthAdjust="spacingAndGlyphs" >209.4 &#177; 0.6</text>
<text x="536.6" y="141" font-family='"Liberation Sans", sans-serif' font-size="10.5" font-weight="bold" fill="#4560b8" stroke="#4560b8" stroke-width="0.3" textLength="54.5" lengthAdjust="spacingAndGlyphs" >208.86 &#177; 0.6</text>
<text x="591.1" y="175.5" font-family='"Liberation Sans", sans-serif' font-size="10.5" font-weight="bold" fill="#4560b8" stroke="#4560b8" stroke-width="0.3" textLength="54.7" lengthAdjust="spacingAndGlyphs" >207.48 &#177; 0.6</text>
<text x="132.3" y="67.2" font-family='"Liberation Sans", sans-serif' font-size="10.5" font-weight="bold" fill="#000" stroke="#000" stroke-width="0.3" textLength="26.9" lengthAdjust="spacingAndGlyphs" >&#177; 4.66</text>
<text x="103.3" y="129.2" font-family='"Liberation Sans", sans-serif' font-size="10.5" font-weight="bold" fill="#000" stroke="#000" stroke-width="0.3" textLength="27.1" lengthAdjust="spacingAndGlyphs" >&#177; 1.92</text>
<text x="217.3" y="101.2" font-family='"Liberation Sans", sans-serif' font-size="10.5" font-weight="bold" fill="#000" stroke="#000" stroke-width="0.3" textLength="27.1" lengthAdjust="spacingAndGlyphs" >&#177; 5.75</text>
<text x="257.7" y="125.8" font-family='"Liberation Sans", sans-serif' font-size="10.5" font-weight="bold" fill="#000" stroke="#000" stroke-width="0.3" textLength="27" lengthAdjust="spacingAndGlyphs" >&#177; 4.89</text>
<text x="299.8" y="150.8" font-family='"Liberation Sans", sans-serif' font-size="10.5" font-weight="bold" fill="#000" stroke="#000" stroke-width="0.3" textLength="27.3" lengthAdjust="spacingAndGlyphs" >&#177; 1.62</text>
<text x="452.2" y="20.2" font-family='"Liberation Sans", sans-serif' font-size="10.5" font-weight="bold" fill="#000" stroke="#000" stroke-width="0.3" textLength="27.1" lengthAdjust="spacingAndGlyphs" >&#177; 1.63</text>
<text x="449.7" y="127.5" font-family='"Liberation Sans", sans-serif' font-size="10.5" font-weight="bold" fill="#000" stroke="#000" stroke-width="0.3" textLength="27.4" lengthAdjust="spacingAndGlyphs" >&#177; 2.93</text>
<text x="559.6" y="71.2" font-family='"Liberation Sans", sans-serif' font-size="10.5" font-weight="bold" fill="#000" stroke="#000" stroke-width="0.3" textLength="27.1" lengthAdjust="spacingAndGlyphs" >&#177; 1.82</text>
<text x="563.7" y="151.2" font-family='"Liberation Sans", sans-serif' font-size="10.5" font-weight="bold" fill="#000" stroke="#000" stroke-width="0.3" textLength="27.4" lengthAdjust="spacingAndGlyphs" >&#177; 3.25</text>
<text x="618.7" y="185.2" font-family='"Liberation Sans", sans-serif' font-size="10.5" font-weight="bold" fill="#000" stroke="#000" stroke-width="0.3" textLength="27.1" lengthAdjust="spacingAndGlyphs" >&#177; 2.45</text>
<rect x="485.8" y="6.8" width="101.1" height="40.3" fill="#fff" stroke="#5e5e5e" stroke-width="1.1" />
<text x="489.9" y="17.2" font-family='"Liberation Serif", serif' font-size="10.6" font-weight="bold" fill="#4a87c9" stroke="#4a87c9" stroke-width="0.3" textLength="67.9" lengthAdjust="spacingAndGlyphs" >y = 212.0899. e</text>
<text x="558.6" y="13.8" font-family='"Liberation Serif", serif' font-size="7.0" font-weight="normal" fill="#4a87c9" stroke="#4a87c9" stroke-width="0.12" textLength="24.5" lengthAdjust="spacingAndGlyphs" >(-0.002x)</text>
<text x="489.9" y="29.3" font-family='"Liberation Serif", serif' font-size="10.6" font-weight="bold" fill="#4a87c9" stroke="#4a87c9" stroke-width="0.3" textLength="52.1" lengthAdjust="spacingAndGlyphs" >R<tspan font-size="6.2" dy="-4">2</tspan><tspan dy="4"> = 0.9637</tspan></text>
<text x="489.9" y="41" font-family='"Liberation Serif", serif' font-size="10.6" font-weight="bold" fill="#4a87c9" stroke="#4a87c9" stroke-width="0.3" textLength="53" lengthAdjust="spacingAndGlyphs" >&#967;<tspan font-size="6.2" dy="-4">2</tspan><tspan font-size="6.8" font-style="italic" dy="6">red</tspan><tspan dy="-2"> = 0.538</tspan></text>
<rect x="411" y="145.1" width="138.3" height="39.9" fill="#fff" stroke="#5e5e5e" stroke-width="1.1" />
<text x="415.8" y="155.6" font-family='"Liberation Serif", serif' font-size="10.6" font-weight="bold" fill="#ec2227" stroke="#ec2227" stroke-width="0.3" textLength="60.1" lengthAdjust="spacingAndGlyphs" >y = 7.3647 * e</text>
<text x="476.3" y="152.2" font-family='"Liberation Serif", serif' font-size="7.0" font-weight="normal" fill="#ec2227" stroke="#ec2227" stroke-width="0.12" textLength="29.1" lengthAdjust="spacingAndGlyphs" >(-0.0101x)</text>
<text x="507.4" y="155.6" font-family='"Liberation Serif", serif' font-size="10.6" font-weight="bold" fill="#ec2227" stroke="#ec2227" stroke-width="0.3" textLength="39.4" lengthAdjust="spacingAndGlyphs" >+ 205.01</text>
<text x="415.8" y="167.2" font-family='"Liberation Serif", serif' font-size="10.6" font-weight="bold" fill="#ec2227" stroke="#ec2227" stroke-width="0.3" textLength="51.8" lengthAdjust="spacingAndGlyphs" >R<tspan font-size="6.2" dy="-4">2</tspan><tspan dy="4"> = 0.9807</tspan></text>
<text x="415.8" y="178.9" font-family='"Liberation Serif", serif' font-size="10.6" font-weight="bold" fill="#ec2227" stroke="#ec2227" stroke-width="0.3" textLength="58.9" lengthAdjust="spacingAndGlyphs" >&#967;<tspan font-size="6.2" dy="-4">2</tspan><tspan font-size="6.8" font-style="italic" dy="6">red</tspan><tspan dy="-2"> = 0.0386</tspan></text>
<rect x="589.6" y="6.8" width="82" height="76.3" fill="#fff" stroke="#5e5e5e" stroke-width="1.1" />
<line x1="602.4" y1="12.3" x2="602.4" y2="21.5" stroke="#6cc644" stroke-width="1" />
<line x1="599.1" y1="12.3" x2="605.7" y2="12.3" stroke="#6cc644" stroke-width="1" />
<line x1="599.1" y1="21.5" x2="605.7" y2="21.5" stroke="#6cc644" stroke-width="1" />
<circle cx="602.4" cy="16.9" r="2.3" fill="#000"/>
<text x="620.1" y="18.2" font-family='"Liberation Serif", serif' font-size="9.6" font-weight="bold" fill="#000" stroke="#000" stroke-width="0.3" textLength="9.4" lengthAdjust="spacingAndGlyphs" >&#934;</text>
<text x="629.4" y="21.2" font-family='"Liberation Serif", serif' font-size="7.0" font-weight="bold" fill="#000" stroke="#000" stroke-width="0.3" textLength="5.1" lengthAdjust="spacingAndGlyphs" >m</text>
<text x="640.5" y="18.2" font-family='"Liberation Serif", serif' font-size="9.6" font-weight="normal" fill="#666" stroke="#666" stroke-width="0.15" textLength="6.8" lengthAdjust="spacingAndGlyphs" >&#177;</text>
<text x="651" y="18.2" font-family='"Liberation Serif", serif' font-size="9.6" font-weight="bold" fill="#000" stroke="#000" stroke-width="0.3" textLength="4.6" lengthAdjust="spacingAndGlyphs" >3</text>
<text x="658.6" y="18.2" font-family='"Liberation Serif", serif' font-size="9.6" font-weight="bold" fill="#000" stroke="#000" stroke-width="0.3" textLength="5.6" lengthAdjust="spacingAndGlyphs" >&#963;</text>
<line x1="602.4" y1="25" x2="602.4" y2="34.2" stroke="#ec2227" stroke-width="1" />
<line x1="599.1" y1="25" x2="605.7" y2="25" stroke="#ec2227" stroke-width="1" />
<line x1="599.1" y1="34.2" x2="605.7" y2="34.2" stroke="#ec2227" stroke-width="1" />
<circle cx="602.4" cy="29.6" r="2.3" fill="#000"/>
<text x="620.1" y="30.9" font-family='"Liberation Serif", serif' font-size="9.6" font-weight="bold" fill="#000" stroke="#000" stroke-width="0.3" textLength="9.4" lengthAdjust="spacingAndGlyphs" >&#934;</text>
<text x="629.4" y="33.9" font-family='"Liberation Serif", serif' font-size="7.0" font-weight="bold" fill="#000" stroke="#000" stroke-width="0.3" textLength="5.1" lengthAdjust="spacingAndGlyphs" >m</text>
<text x="640.5" y="30.9" font-family='"Liberation Serif", serif' font-size="9.6" font-weight="normal" fill="#666" stroke="#666" stroke-width="0.15" textLength="6.8" lengthAdjust="spacingAndGlyphs" >&#177;</text>
<text x="651" y="30.9" font-family='"Liberation Serif", serif' font-size="9.6" font-weight="bold" fill="#000" stroke="#000" stroke-width="0.3" textLength="4.6" lengthAdjust="spacingAndGlyphs" >2</text>
<text x="658.6" y="30.9" font-family='"Liberation Serif", serif' font-size="9.6" font-weight="bold" fill="#000" stroke="#000" stroke-width="0.3" textLength="5.6" lengthAdjust="spacingAndGlyphs" >&#963;</text>
<line x1="602.4" y1="37.7" x2="602.4" y2="46.9" stroke="#3f57b5" stroke-width="1" />
<line x1="599.1" y1="37.7" x2="605.7" y2="37.7" stroke="#3f57b5" stroke-width="1" />
<line x1="599.1" y1="46.9" x2="605.7" y2="46.9" stroke="#3f57b5" stroke-width="1" />
<circle cx="602.4" cy="42.3" r="2.3" fill="#000"/>
<text x="620.1" y="43.6" font-family='"Liberation Serif", serif' font-size="9.6" font-weight="bold" fill="#000" stroke="#000" stroke-width="0.3" textLength="9.4" lengthAdjust="spacingAndGlyphs" >&#934;</text>
<text x="629.4" y="46.6" font-family='"Liberation Serif", serif' font-size="7.0" font-weight="bold" fill="#000" stroke="#000" stroke-width="0.3" textLength="5.1" lengthAdjust="spacingAndGlyphs" >m</text>
<text x="640.5" y="43.6" font-family='"Liberation Serif", serif' font-size="9.6" font-weight="normal" fill="#666" stroke="#666" stroke-width="0.15" textLength="6.8" lengthAdjust="spacingAndGlyphs" >&#177;</text>
<text x="651" y="43.6" font-family='"Liberation Serif", serif' font-size="9.6" font-weight="bold" fill="#000" stroke="#000" stroke-width="0.3" textLength="4.6" lengthAdjust="spacingAndGlyphs" >1</text>
<text x="658.6" y="43.6" font-family='"Liberation Serif", serif' font-size="9.6" font-weight="bold" fill="#000" stroke="#000" stroke-width="0.3" textLength="5.6" lengthAdjust="spacingAndGlyphs" >&#963;</text>
<line x1="602.4" y1="50.4" x2="602.4" y2="59.6" stroke="#000" stroke-width="1" />
<line x1="599.1" y1="50.4" x2="605.7" y2="50.4" stroke="#000" stroke-width="1" />
<line x1="599.1" y1="59.6" x2="605.7" y2="59.6" stroke="#000" stroke-width="1" />
<circle cx="602.4" cy="55" r="2.3" fill="#000"/>
<text x="620.1" y="56.3" font-family='"Liberation Serif", serif' font-size="9.6" font-weight="bold" fill="#000" stroke="#000" stroke-width="0.3" textLength="9.4" lengthAdjust="spacingAndGlyphs" >&#934;</text>
<text x="629.4" y="59.3" font-family='"Liberation Serif", serif' font-size="7.0" font-weight="bold" fill="#000" stroke="#000" stroke-width="0.3" textLength="5.1" lengthAdjust="spacingAndGlyphs" >m</text>
<text x="640.5" y="56.3" font-family='"Liberation Serif", serif' font-size="9.6" font-weight="normal" fill="#666" stroke="#666" stroke-width="0.15" textLength="6.8" lengthAdjust="spacingAndGlyphs" >&#177;</text>
<text x="651" y="56.3" font-family='"Liberation Serif", serif' font-size="9.6" font-weight="bold" fill="#000" stroke="#000" stroke-width="0.3" textLength="11" lengthAdjust="spacingAndGlyphs" >SD</text>
<line x1="595.3" y1="66" x2="613.4" y2="66" stroke="#3450b0" stroke-width="1.4" stroke-dasharray="3.8 1.3 0.8 1.3"/>
<line x1="595.3" y1="76.8" x2="613.4" y2="76.8" stroke="#ec2227" stroke-width="1.8" stroke-dasharray="4 1.5 1 1.5 1 1.5"/>
<text x="620.1" y="67.8" font-family='"Liberation Sans", sans-serif' font-size="9.6" font-weight="bold" fill="#000" stroke="#000" stroke-width="0.3" textLength="32" lengthAdjust="spacingAndGlyphs" >Exp Fit</text>
<text x="620.1" y="78.6" font-family='"Liberation Sans", sans-serif' font-size="9.6" font-weight="bold" fill="#000" stroke="#000" stroke-width="0.3" textLength="49" lengthAdjust="spacingAndGlyphs" >Exp Fit + c</text>
<rect x="60.3" y="242.5" width="88.75" height="242.5" fill="#f5e1e4" stroke="none" stroke-width="1" />
<rect x="149.05" y="242.5" width="88.75" height="242.5" fill="#e7f5e1" stroke="none" stroke-width="1" />
<rect x="237.8" y="242.5" width="88.75" height="242.5" fill="#e3f0f9" stroke="none" stroke-width="1" />
<line x1="82.49" y1="242.5" x2="82.49" y2="485" stroke="#8c8c8c" stroke-width="1" />
<line x1="104.68" y1="242.5" x2="104.68" y2="485" stroke="#8c8c8c" stroke-width="1" />
<line x1="126.86" y1="242.5" x2="126.86" y2="485" stroke="#8c8c8c" stroke-width="1" />
<line x1="149.05" y1="242.5" x2="149.05" y2="485" stroke="#8c8c8c" stroke-width="1" />
<line x1="171.24" y1="242.5" x2="171.24" y2="485" stroke="#8c8c8c" stroke-width="1" />
<line x1="193.43" y1="242.5" x2="193.43" y2="485" stroke="#8c8c8c" stroke-width="1" />
<line x1="215.62" y1="242.5" x2="215.62" y2="485" stroke="#8c8c8c" stroke-width="1" />
<line x1="237.8" y1="242.5" x2="237.8" y2="485" stroke="#8c8c8c" stroke-width="1" />
<line x1="259.99" y1="242.5" x2="259.99" y2="485" stroke="#8c8c8c" stroke-width="1" />
<line x1="282.18" y1="242.5" x2="282.18" y2="485" stroke="#8c8c8c" stroke-width="1" />
<line x1="304.37" y1="242.5" x2="304.37" y2="485" stroke="#8c8c8c" stroke-width="1" />
<line x1="60.3" y1="448.07" x2="326.6" y2="448.07" stroke="#a0a0a0" stroke-width="1" />
<line x1="60.3" y1="411.15" x2="326.6" y2="411.15" stroke="#a0a0a0" stroke-width="1" />
<line x1="60.3" y1="374.23" x2="326.6" y2="374.23" stroke="#a0a0a0" stroke-width="1" />
<line x1="60.3" y1="337.3" x2="326.6" y2="337.3" stroke="#a0a0a0" stroke-width="1" />
<line x1="60.3" y1="300.38" x2="326.6" y2="300.38" stroke="#a0a0a0" stroke-width="1" />
<line x1="60.3" y1="263.45" x2="326.6" y2="263.45" stroke="#a0a0a0" stroke-width="1" />
<line x1="60.3" y1="242.5" x2="326.6" y2="242.5" stroke="#555" stroke-width="1" />
<line x1="326.6" y1="242.5" x2="326.6" y2="485" stroke="#555" stroke-width="1" />
<line x1="60.3" y1="242.5" x2="60.3" y2="485" stroke="#555" stroke-width="1" />
<line x1="60.3" y1="485" x2="326.6" y2="485" stroke="#555" stroke-width="1" />
<line x1="60.3" y1="448.07" x2="326.6" y2="448.07" stroke="#a0a0a0" stroke-width="1" />
<line x1="60.3" y1="411.15" x2="326.6" y2="411.15" stroke="#a0a0a0" stroke-width="1" />
<line x1="60.3" y1="374.23" x2="326.6" y2="374.23" stroke="#a0a0a0" stroke-width="1" />
<line x1="60.3" y1="337.3" x2="326.6" y2="337.3" stroke="#a0a0a0" stroke-width="1" />
<line x1="60.3" y1="300.38" x2="326.6" y2="300.38" stroke="#a0a0a0" stroke-width="1" />
<line x1="60.3" y1="263.45" x2="326.6" y2="263.45" stroke="#a0a0a0" stroke-width="1" />
<line x1="60.3" y1="242.5" x2="326.6" y2="242.5" stroke="#555" stroke-width="1" />
<line x1="326.6" y1="242.5" x2="326.6" y2="485" stroke="#555" stroke-width="1" />
<line x1="60.3" y1="242.5" x2="60.3" y2="485" stroke="#555" stroke-width="1" />
<line x1="60.3" y1="485" x2="326.6" y2="485" stroke="#555" stroke-width="1" />
<line x1="56.5" y1="448.07" x2="60.3" y2="448.07" stroke="#555" stroke-width="1" />
<text x="38.25" y="450.38" font-family='"Liberation Sans", sans-serif' font-size="9.0" font-weight="bold" fill="#000" stroke="#000" stroke-width="0.3" textLength="14.55" lengthAdjust="spacingAndGlyphs" >500</text>
<line x1="56.5" y1="411.15" x2="60.3" y2="411.15" stroke="#555" stroke-width="1" />
<text x="33.4" y="413.45" font-family='"Liberation Sans", sans-serif' font-size="9.0" font-weight="bold" fill="#000" stroke="#000" stroke-width="0.3" textLength="19.4" lengthAdjust="spacingAndGlyphs" >1000</text>
<line x1="56.5" y1="374.23" x2="60.3" y2="374.23" stroke="#555" stroke-width="1" />
<text x="33.4" y="376.53" font-family='"Liberation Sans", sans-serif' font-size="9.0" font-weight="bold" fill="#000" stroke="#000" stroke-width="0.3" textLength="19.4" lengthAdjust="spacingAndGlyphs" >1500</text>
<line x1="56.5" y1="337.3" x2="60.3" y2="337.3" stroke="#555" stroke-width="1" />
<text x="33.4" y="339.6" font-family='"Liberation Sans", sans-serif' font-size="9.0" font-weight="bold" fill="#000" stroke="#000" stroke-width="0.3" textLength="19.4" lengthAdjust="spacingAndGlyphs" >2000</text>
<line x1="56.5" y1="300.38" x2="60.3" y2="300.38" stroke="#555" stroke-width="1" />
<text x="33.4" y="302.68" font-family='"Liberation Sans", sans-serif' font-size="9.0" font-weight="bold" fill="#000" stroke="#000" stroke-width="0.3" textLength="19.4" lengthAdjust="spacingAndGlyphs" >2500</text>
<line x1="56.5" y1="263.45" x2="60.3" y2="263.45" stroke="#555" stroke-width="1" />
<text x="33.4" y="265.75" font-family='"Liberation Sans", sans-serif' font-size="9.0" font-weight="bold" fill="#000" stroke="#000" stroke-width="0.3" textLength="19.4" lengthAdjust="spacingAndGlyphs" >3000</text>
<line x1="60.3" y1="485" x2="60.3" y2="487.5" stroke="#555" stroke-width="1" />
<line x1="82.49" y1="485" x2="82.49" y2="487.5" stroke="#555" stroke-width="1" />
<line x1="104.68" y1="485" x2="104.68" y2="487.5" stroke="#555" stroke-width="1" />
<line x1="126.86" y1="485" x2="126.86" y2="487.5" stroke="#555" stroke-width="1" />
<line x1="149.05" y1="485" x2="149.05" y2="487.5" stroke="#555" stroke-width="1" />
<line x1="171.24" y1="485" x2="171.24" y2="487.5" stroke="#555" stroke-width="1" />
<line x1="193.43" y1="485" x2="193.43" y2="487.5" stroke="#555" stroke-width="1" />
<line x1="215.62" y1="485" x2="215.62" y2="487.5" stroke="#555" stroke-width="1" />
<line x1="237.8" y1="485" x2="237.8" y2="487.5" stroke="#555" stroke-width="1" />
<line x1="259.99" y1="485" x2="259.99" y2="487.5" stroke="#555" stroke-width="1" />
<line x1="282.18" y1="485" x2="282.18" y2="487.5" stroke="#555" stroke-width="1" />
<line x1="304.37" y1="485" x2="304.37" y2="487.5" stroke="#555" stroke-width="1" />
<line x1="326.56" y1="485" x2="326.56" y2="487.5" stroke="#555" stroke-width="1" />
<text x="57.8" y="497.6" font-family='"Liberation Sans", sans-serif' font-size="9.0" font-weight="bold" fill="#000" stroke="#000" stroke-width="0.3" textLength="5.4" lengthAdjust="spacingAndGlyphs" >0</text>
<text x="99.48" y="497.6" font-family='"Liberation Sans", sans-serif' font-size="9.0" font-weight="bold" fill="#000" stroke="#000" stroke-width="0.3" textLength="10.8" lengthAdjust="spacingAndGlyphs" >24</text>
<text x="143.85" y="497.6" font-family='"Liberation Sans", sans-serif' font-size="9.0" font-weight="bold" fill="#000" stroke="#000" stroke-width="0.3" textLength="10.8" lengthAdjust="spacingAndGlyphs" >48</text>
<text x="188.23" y="497.6" font-family='"Liberation Sans", sans-serif' font-size="9.0" font-weight="bold" fill="#000" stroke="#000" stroke-width="0.3" textLength="10.8" lengthAdjust="spacingAndGlyphs" >72</text>
<text x="232.6" y="497.6" font-family='"Liberation Sans", sans-serif' font-size="9.0" font-weight="bold" fill="#000" stroke="#000" stroke-width="0.3" textLength="10.8" lengthAdjust="spacingAndGlyphs" >96</text>
<text x="274.28" y="497.6" font-family='"Liberation Sans", sans-serif' font-size="9.0" font-weight="bold" fill="#000" stroke="#000" stroke-width="0.3" textLength="16.2" lengthAdjust="spacingAndGlyphs" >120</text>
<text x="318.66" y="497.6" font-family='"Liberation Sans", sans-serif' font-size="9.0" font-weight="bold" fill="#000" stroke="#000" stroke-width="0.3" textLength="16.2" lengthAdjust="spacingAndGlyphs" >144</text>
<text x="147.7" y="514.1" font-family='"Liberation Sans", sans-serif' font-size="10.6" font-weight="bold" fill="#000" stroke="#000" stroke-width="0.3" textLength="78.2" lengthAdjust="spacingAndGlyphs" >Duration (Hours)</text>
<text x="2.6" y="246" font-family='"Liberation Sans", sans-serif' font-size="15.5" font-weight="bold" fill="#000" stroke="#000" stroke-width="0.3" textLength="12.4" lengthAdjust="spacingAndGlyphs" >c)</text>
<text transform="translate(10.3,433.4) rotate(-90)" font-family='"Liberation Sans", sans-serif' font-size="12.4" font-weight="bold" stroke="#000" stroke-width="0.2" textLength="153.5" lengthAdjust="spacingAndGlyphs">Cumulative flux difference</text>
<text transform="translate(25.3,424.8) rotate(-90)" font-family='"Liberation Sans", sans-serif' font-size="12" font-weight="bold" textLength="142.2" lengthAdjust="spacingAndGlyphs">( <tspan font-family='"Liberation Serif", serif' font-size="15">&#931;</tspan><tspan font-family='"Liberation Serif", serif' font-size="13.5">&#934;</tspan><tspan font-family='"Liberation Serif", serif' font-size="7.8" dy="3.4">Empty</tspan><tspan dy="-3.4"> - </tspan><tspan font-family='"Liberation Serif", serif' font-size="13.5">&#934;</tspan><tspan font-family='"Liberation Serif", serif' font-size="7.8" dy="3.4">Varying acrylic length</tspan><tspan dy="-3.4"> )</tspan></text>
<rect x="62.9" y="247.5" width="39.3" height="12.9" fill="#fff" stroke="none" stroke-width="1" />
<text x="66" y="255.8" font-family='"Liberation Sans", sans-serif' font-size="8.8" font-weight="bold" fill="#000" stroke="#000" stroke-width="0.3" textLength="30.9" lengthAdjust="spacingAndGlyphs" >Stage 1</text>
<rect x="151.9" y="247.8" width="39.1" height="12.4" fill="#fff" stroke="none" stroke-width="1" />
<text x="155.6" y="255.9" font-family='"Liberation Sans", sans-serif' font-size="8.8" font-weight="bold" fill="#000" stroke="#000" stroke-width="0.3" textLength="31.6" lengthAdjust="spacingAndGlyphs" >Stage 2</text>
<rect x="240.9" y="248.2" width="38.3" height="12.2" fill="#fff" stroke="none" stroke-width="1" />
<text x="244.8" y="256" font-family='"Liberation Sans", sans-serif' font-size="8.8" font-weight="bold" fill="#000" stroke="#000" stroke-width="0.3" textLength="31.6" lengthAdjust="spacingAndGlyphs" >Stage 3</text>
<clipPath id="cc"><rect x="60.3" y="242.5" width="266.3" height="242.5"/></clipPath>
<g clip-path="url(#cc)">
<line x1="60.3" y1="485" x2="326.6" y2="242.4" stroke="#b04fc0" stroke-width="1.15" stroke-dasharray="4.5 3"/>
<line x1="60.3" y1="485" x2="326.6" y2="269" stroke="#ec2227" stroke-width="1.15" stroke-dasharray="4.5 3"/>
<line x1="60.3" y1="485" x2="326.6" y2="305.6" stroke="#3f57b5" stroke-width="1.15" stroke-dasharray="4.5 3"/>
<line x1="60.3" y1="485" x2="326.6" y2="333.5" stroke="#000" stroke-width="1.15" stroke-dasharray="4.5 3"/>
<polyline points="60.3,484.5 61.85,481.79 63.4,479.6 66.1,474.2 68.8,470.8 71.6,468.1 74.3,467.4 76.3,465.4 78.3,460.7 81,456.6 83.7,452.5 86.5,448.5 88.5,445.1 89.8,441 91.9,440.3 94.6,439.6 97.3,439 100,436.9 102.7,433.6 104.7,425.4 106.8,422.7 107.9,422.1 109.35,419.99 110.8,417.8 112.25,416.22 113.7,414.9 115.9,412 118,409.1 120.2,405.4 121.65,404.45 123.1,403.3 125.3,399.6 127.5,396 128.95,394.33 130.4,392.4 131.85,390.52 133.3,389.5 135.4,386.6 136.85,385.36 138.3,385.1 139.75,384.74 141.2,383.7 142.65,382.36 144.1,381.5 145.55,380.53 147,380.1 148.5,379.05 150,377 151.65,374.52 153.3,372.1 154.95,370.39 156.6,368 159,364.7 160.65,364.23 162.3,363.8 163.95,362.74 165.6,361.4 167.25,360.2 168.9,359.7 170.55,359.43 172.2,358.9 173.85,358.47 175.5,357.3 177.15,356.47 178.8,355.6 180.45,355.44 182.1,354.8 184.5,352.3 186.15,351.92 187.8,351.2 189.45,350.11 191.1,349.9 193.6,348.2 196.1,344.9 198.5,344.8 200.25,344.21 202,343.1 203.75,342.34 205.5,341.4 207.2,339.45 208.9,337.9 210.65,336.13 212.4,335.3 214.15,332.62 215.9,329.2 217.65,327.87 219.4,326.6 221.15,325.47 222.9,323.9 224.65,323.43 226.4,322.2 228.1,321.11 229.8,319.6 231.55,318.72 233.3,317 235.05,315.59 236.8,314.4 239.4,315.2 242,311.7 244.6,309.5 246.2,311.1 248.5,309.5 250.8,307.2 253.2,303.3 254.7,301 256.3,302.6 258.6,301 260.9,299.5 263.2,296.4 265.5,294.1 267.9,293.3 270.2,291.7 272.5,289.4 274.8,287.1 277.2,285.5 279.5,283.2 281.8,280.9 284.1,278.6 286.4,274.7 288.1,274 289.65,272.75 291.2,270.9 293.5,270.2 295.8,267.8 297.35,266.99 298.9,266.3 301.2,265.5 303.6,267.1 305.9,264 308.2,260.1 310.5,257 312.8,255.5 315.2,253.1 317.5,250.8 319.8,252.4 322.1,248.5 324.4,244.6 326.6,242.3" fill="none" stroke="#b04fc0" stroke-width="1.35" stroke-linejoin="round" />
<polyline points="60.3,484.5 61.85,481.14 63.4,476.9 66.1,472.2 68.8,468.8 71.6,465.4 73.6,464.7 75.6,465.4 77.6,462 79,458.6 81.7,455.2 84.4,451.8 87.1,448.5 89.8,446.4 92.6,445.1 95.3,442.4 98,439.6 100.7,439 103.4,436.3 105.4,432.2 107.9,429.3 109.35,428.23 110.8,426.4 112.25,425.65 113.7,425.7 115.9,422.1 118,419.2 120.2,418.5 121.65,417.79 123.1,417.8 125.3,414.9 126.75,413.87 128.2,413.4 129.65,413.52 131.1,412.7 132.55,411.89 134,411.2 135.45,410.63 136.9,409.8 138.35,409.25 139.8,409.1 142,406.2 143.45,405.81 144.9,405.4 146.35,404.94 147.8,404.7 149.9,403.3 152.5,398.4 154.9,392.6 156.55,390.8 158.2,389.3 159.85,388.19 161.5,386.9 163.15,385.73 164.8,384.4 166.45,383.55 168.1,381.9 169.75,380.88 171.4,379.5 173.05,377.88 174.7,375.4 176.35,374.91 178,373.7 179.65,374.59 181.3,374.5 182.9,374.27 184.5,373.7 186.15,372.11 187.8,371.2 189.45,370.36 191.1,368.8 193.6,366.3 196.1,363 198.5,362.3 200.25,361.46 202,359.7 203.75,358.35 205.5,356.2 207.2,354.97 208.9,353.6 210.65,352.46 212.4,350.9 214.15,347.56 215.9,344.8 217.65,343.43 219.4,341.4 221.15,341.02 222.9,340.5 224.65,338.98 226.4,337.9 228.1,335.71 229.8,334.4 231.55,333.45 233.3,331.8 235.05,331.39 236.8,330 238.55,327.89 240.3,326.6 242.3,325.8 244.6,325 246.15,326.1 247.7,326.6 249.25,327.26 250.8,328.1 252.35,326.2 253.9,325 255.45,324.79 257,325 258.55,324.52 260.1,323.5 261.65,322.67 263.2,321.1 264.75,319.14 266.3,318.1 268.6,316.5 271,316.5 273.3,314.2 275.6,313.4 277.15,312.76 278.7,311.9 280.25,310.64 281.8,310.3 284.1,308.8 286.4,306.4 288.1,305.7 289.65,305.52 291.2,304.9 293.5,304.2 295.8,306.5 298.1,304.2 300.5,302.6 302.8,300.3 305.1,296.4 307.4,292.6 309.7,289.5 312.1,287.2 314.4,284.8 316.7,282.5 319,280.2 321.3,281 323.7,276.3 325.15,274.23 326.6,272.5" fill="none" stroke="#ec2227" stroke-width="1.35" stroke-linejoin="round" />
<polyline points="60.3,484.5 61.85,482.88 63.4,480.5 66.1,476.9 68.8,475.5 71.6,474.2 73.3,473.83 75,472.5 76.65,471.66 78.3,470.8 80,470.15 81.7,468.5 83.4,467.11 85.1,466.1 86.8,464.48 88.5,463.7 90.2,462.6 91.9,461.3 93.6,460.18 95.3,460 97,459 98.7,458.6 101.4,457 104.1,455.2 106,453.5 108,451.8 109.5,450.31 111,449 113.7,445.5 116,442 118,439.5 119.45,439.26 120.9,438.8 123.5,439.5 125.1,437.66 126.7,436.5 128.55,434.19 130.4,432.8 132.2,431.67 134,429.8 135.43,428.85 136.87,428.73 138.3,427.5 139.77,427.16 141.23,425.91 142.7,425.3 144.13,424.56 145.57,423.92 147,423.2 148.45,422.54 149.9,421.6 150,420.6 151.65,417.8 153.3,414.8 154.95,412.81 156.6,410.7 158.25,409.17 159.9,407.4 161.55,405.79 163.2,403.3 164.8,402.51 166.4,401.7 168.05,400.78 169.7,400 171.35,399.82 173,399.2 174.65,397.69 176.3,396.7 177.95,395.3 179.6,394.3 181.25,394.38 182.9,393.5 184.55,392.67 186.2,391.8 187.85,391.45 189.5,391 191.15,390.11 192.8,390.2 194.45,388.47 196.1,386.9 198.5,384 200.25,382.78 202,381.4 203.75,379.62 205.5,378.8 207.2,377.62 208.9,376.2 210.65,374.58 212.4,372.7 214.15,371.41 215.9,371 217.65,370.68 219.4,370.1 221.15,369.22 222.9,368.4 224.65,368.13 226.4,367.5 228.1,366.45 229.8,365.7 231.55,365.51 233.3,364.9 235.05,364.69 236.8,364 238.4,363.17 240,363.3 241.55,362.51 243.1,362.6 244.65,363.13 246.2,363.3 247.75,363.96 249.3,363.7 250.85,362.9 252.4,362.6 253.95,361.76 255.5,361 257.05,360.89 258.6,360.6 260.15,360.07 261.7,359.9 263.25,359.16 264.8,358.7 266.35,359.11 267.9,359.9 269.45,358.77 271,357.9 272.55,355.7 274.1,353.3 275.65,352.3 277.2,351.7 278.7,350.83 280.2,350.2 281.75,349.32 283.3,347.9 284.85,345.88 286.4,344.8 287.7,343.4 290.4,341.3 293.1,340 295.8,341.3 297.2,339.72 298.6,338 301.3,336.6 304,335.2 306.7,332.5 309.4,329.8 311.4,328.5 313.5,326.4 315.5,323 317.5,320.3 319.6,319 321.6,317.6 324.3,313.6 326.6,309.8" fill="none" stroke="#3f57b5" stroke-width="1.35" stroke-linejoin="round" />
<polyline points="60.3,484.5 62.7,479.6 65.5,475.6 68.2,474.2 70.9,473.5 73.6,472.8 76.3,472.2 79,469.5 81.7,466.7 83.4,465.59 85.1,464 87.8,462 90.5,459.3 93.2,457.9 95.9,457.3 98.7,455.9 101.4,454.6 104.1,451.2 106.1,448.5 107.9,446 109.35,445.11 110.8,444.6 113,445.3 114.45,443.22 115.9,441.7 117.35,440.9 118.8,439.5 120.25,440.34 121.7,441.7 123.15,439.94 124.6,438.8 126.05,437.29 127.5,435.9 128.95,434.65 130.4,433 131.85,432.2 133.3,432.2 134.75,430.97 136.2,430.1 137.65,429.18 139.1,428.6 140.55,427.83 142,426.4 143.45,425.64 144.9,425 146.35,424.66 147.8,423.6 149.9,424.3 151.6,422.12 153.3,420.6 154.95,419.19 156.6,418.1 158.25,417.05 159.9,415.7 161.55,415.63 163.2,414.8 164.8,413.95 166.4,413.2 168.05,412.53 169.7,412.4 171.35,411.57 173,411.5 174.65,411.13 176.3,410.7 177.95,409.59 179.6,409.1 181.25,409.01 182.9,408.3 184.55,408.19 186.2,407.4 187.85,406.28 189.5,405.8 191.15,404.33 192.8,403.3 194.45,403.21 196.1,402.5 197.7,403.04 199.3,403.3 201.15,402.96 203,402 205,401.1 207,400.5 208.85,399.33 210.7,398.9 212.45,396.94 214.2,395.4 215.9,394.79 217.6,393.6 219.35,394.27 221.1,395.4 222.85,393.95 224.6,392.8 226.35,392.27 228.1,391.9 229.85,390.52 231.6,389.3 233.35,387.91 235.1,386.7 236.85,386.22 238.6,384.9 240.5,382.5 242.3,378.8 244.6,377.3 247,379.6 249.3,381.1 250.85,381.16 252.4,381.9 253.95,380.65 255.5,380.4 257.05,380.44 258.6,379.6 260.15,380.38 261.7,380.4 263.25,379.69 264.8,378 266.35,376.43 267.9,375 269.45,374.65 271,373.4 272.55,374.23 274.1,374.2 275.65,373.12 277.2,372.6 278.7,372.5 280.2,371.9 282.6,371.1 284.9,368 287,362.3 289.1,359 291.8,357.6 294.5,358.3 297.2,357.6 299.9,355.6 302.6,353.5 305.3,351.5 308,349.5 309.4,348.79 310.8,347.4 313.5,344.7 316.2,342 318.9,338.6 321.6,335.2 324.3,334.6 326.6,331.2" fill="none" stroke="#000" stroke-width="1.35" stroke-linejoin="round" />
</g>
<rect x="67.8" y="272.2" width="129.5" height="59.2" fill="#fff" stroke="none" stroke-width="1" />
<text x="73.5" y="283.4" font-family='"Liberation Sans", sans-serif' font-size="9.0" font-weight="bold" fill="#000" stroke="#000" stroke-width="0.3" textLength="107.1" lengthAdjust="spacingAndGlyphs" >Cumlative flux difference</text>
<line x1="70.1" y1="293.2" x2="86.9" y2="293.2" stroke="#b04fc0" stroke-width="2.7" />
<text x="91.3" y="296.7" font-family='"Liberation Sans", sans-serif' font-size="8.8" font-weight="bold" fill="#b04fc0" stroke="#b04fc0" stroke-width="0.3" textLength="38" lengthAdjust="spacingAndGlyphs" >0 - 80 cm</text>
<text x="139" y="295.5" font-family='"Liberation Serif", serif' font-size="10.4" font-weight="bold" fill="#b04fc0" stroke="#b04fc0" stroke-width="0.3" textLength="8.6" lengthAdjust="spacingAndGlyphs" >&#934;</text>
<text x="147.9" y="298.8" font-family='"Liberation Serif", serif' font-size="6.2" font-weight="bold" fill="#b04fc0" stroke="#b04fc0" stroke-width="0.3" textLength="3.4" lengthAdjust="spacingAndGlyphs" >&#955;</text>
<text x="153.5" y="295.2" font-family='"Liberation Sans", sans-serif' font-size="8.8" font-weight="bold" fill="#b04fc0" stroke="#b04fc0" stroke-width="0.3" textLength="35.5" lengthAdjust="spacingAndGlyphs" >= 24.12x</text>
<line x1="70.1" y1="303.95" x2="86.9" y2="303.95" stroke="#ec2227" stroke-width="2.7" />
<text x="91.3" y="307.45" font-family='"Liberation Sans", sans-serif' font-size="8.8" font-weight="bold" fill="#ec2227" stroke="#ec2227" stroke-width="0.3" textLength="38" lengthAdjust="spacingAndGlyphs" >0 - 60 cm</text>
<text x="139" y="305.8" font-family='"Liberation Serif", serif' font-size="10.4" font-weight="bold" fill="#ec2227" stroke="#ec2227" stroke-width="0.3" textLength="8.6" lengthAdjust="spacingAndGlyphs" >&#934;</text>
<text x="147.9" y="309.1" font-family='"Liberation Serif", serif' font-size="6.2" font-weight="bold" fill="#ec2227" stroke="#ec2227" stroke-width="0.3" textLength="3.4" lengthAdjust="spacingAndGlyphs" >&#955;</text>
<text x="153.5" y="305.5" font-family='"Liberation Sans", sans-serif' font-size="8.8" font-weight="bold" fill="#ec2227" stroke="#ec2227" stroke-width="0.3" textLength="35.5" lengthAdjust="spacingAndGlyphs" >= 20.83x</text>
<line x1="70.1" y1="314.7" x2="86.9" y2="314.7" stroke="#3f57b5" stroke-width="2.7" />
<text x="91.3" y="318.2" font-family='"Liberation Sans", sans-serif' font-size="8.8" font-weight="bold" fill="#3f57b5" stroke="#3f57b5" stroke-width="0.3" textLength="38" lengthAdjust="spacingAndGlyphs" >0 - 40 cm</text>
<text x="139" y="316.1" font-family='"Liberation Serif", serif' font-size="10.4" font-weight="bold" fill="#3f57b5" stroke="#3f57b5" stroke-width="0.3" textLength="8.6" lengthAdjust="spacingAndGlyphs" >&#934;</text>
<text x="147.9" y="319.4" font-family='"Liberation Serif", serif' font-size="6.2" font-weight="bold" fill="#3f57b5" stroke="#3f57b5" stroke-width="0.3" textLength="3.4" lengthAdjust="spacingAndGlyphs" >&#955;</text>
<text x="153.5" y="315.8" font-family='"Liberation Sans", sans-serif' font-size="8.8" font-weight="bold" fill="#3f57b5" stroke="#3f57b5" stroke-width="0.3" textLength="35.5" lengthAdjust="spacingAndGlyphs" >= 16.41x</text>
<line x1="70.1" y1="325.45" x2="86.9" y2="325.45" stroke="#000" stroke-width="2.7" />
<text x="91.3" y="328.95" font-family='"Liberation Sans", sans-serif' font-size="8.8" font-weight="bold" fill="#000" stroke="#000" stroke-width="0.3" textLength="38" lengthAdjust="spacingAndGlyphs" >0 - 20 cm</text>
<text x="139" y="326.4" font-family='"Liberation Serif", serif' font-size="10.4" font-weight="bold" fill="#000" stroke="#000" stroke-width="0.3" textLength="8.6" lengthAdjust="spacingAndGlyphs" >&#934;</text>
<text x="147.9" y="329.7" font-family='"Liberation Serif", serif' font-size="6.2" font-weight="bold" fill="#000" stroke="#000" stroke-width="0.3" textLength="3.4" lengthAdjust="spacingAndGlyphs" >&#955;</text>
<text x="153.5" y="326.1" font-family='"Liberation Sans", sans-serif' font-size="8.8" font-weight="bold" fill="#000" stroke="#000" stroke-width="0.3" textLength="35.5" lengthAdjust="spacingAndGlyphs" >= 14.31x</text>
<rect x="408.3" y="241.6" width="88.75" height="242.6" fill="#f5e1e4" stroke="none" stroke-width="1" />
<rect x="497.05" y="241.6" width="88.75" height="242.6" fill="#e7f5e1" stroke="none" stroke-width="1" />
<rect x="585.8" y="241.6" width="88.75" height="242.6" fill="#e3f0f9" stroke="none" stroke-width="1" />
<line x1="430.49" y1="241.6" x2="430.49" y2="484.2" stroke="#8c8c8c" stroke-width="1" />
<line x1="452.68" y1="241.6" x2="452.68" y2="484.2" stroke="#8c8c8c" stroke-width="1" />
<line x1="474.86" y1="241.6" x2="474.86" y2="484.2" stroke="#8c8c8c" stroke-width="1" />
<line x1="497.05" y1="241.6" x2="497.05" y2="484.2" stroke="#8c8c8c" stroke-width="1" />
<line x1="519.24" y1="241.6" x2="519.24" y2="484.2" stroke="#8c8c8c" stroke-width="1" />
<line x1="541.43" y1="241.6" x2="541.43" y2="484.2" stroke="#8c8c8c" stroke-width="1" />
<line x1="563.62" y1="241.6" x2="563.62" y2="484.2" stroke="#8c8c8c" stroke-width="1" />
<line x1="585.8" y1="241.6" x2="585.8" y2="484.2" stroke="#8c8c8c" stroke-width="1" />
<line x1="607.99" y1="241.6" x2="607.99" y2="484.2" stroke="#8c8c8c" stroke-width="1" />
<line x1="630.18" y1="241.6" x2="630.18" y2="484.2" stroke="#8c8c8c" stroke-width="1" />
<line x1="652.37" y1="241.6" x2="652.37" y2="484.2" stroke="#8c8c8c" stroke-width="1" />
<line x1="408.3" y1="464.95" x2="674.5" y2="464.95" stroke="#a0a0a0" stroke-width="1" />
<line x1="408.3" y1="438.5" x2="674.5" y2="438.5" stroke="#a0a0a0" stroke-width="1" />
<line x1="408.3" y1="412.05" x2="674.5" y2="412.05" stroke="#a0a0a0" stroke-width="1" />
<line x1="408.3" y1="385.6" x2="674.5" y2="385.6" stroke="#a0a0a0" stroke-width="1" />
<line x1="408.3" y1="359.15" x2="674.5" y2="359.15" stroke="#a0a0a0" stroke-width="1" />
<line x1="408.3" y1="332.7" x2="674.5" y2="332.7" stroke="#a0a0a0" stroke-width="1" />
<line x1="408.3" y1="306.25" x2="674.5" y2="306.25" stroke="#a0a0a0" stroke-width="1" />
<line x1="408.3" y1="279.8" x2="674.5" y2="279.8" stroke="#a0a0a0" stroke-width="1" />
<line x1="408.3" y1="253.35" x2="674.5" y2="253.35" stroke="#a0a0a0" stroke-width="1" />
<line x1="408.3" y1="241.6" x2="674.5" y2="241.6" stroke="#555" stroke-width="1" />
<line x1="674.5" y1="241.6" x2="674.5" y2="484.2" stroke="#555" stroke-width="1" />
<line x1="408.3" y1="241.6" x2="408.3" y2="484.2" stroke="#555" stroke-width="1" />
<line x1="408.3" y1="484.2" x2="674.5" y2="484.2" stroke="#555" stroke-width="1" />
<line x1="404.5" y1="464.95" x2="408.3" y2="464.95" stroke="#555" stroke-width="1" />
<text x="382.6" y="467.25" font-family='"Liberation Sans", sans-serif' font-size="9.0" font-weight="bold" fill="#000" stroke="#000" stroke-width="0.3" textLength="19.4" lengthAdjust="spacingAndGlyphs" >-100</text>
<line x1="404.5" y1="438.5" x2="408.3" y2="438.5" stroke="#555" stroke-width="1" />
<text x="397.15" y="440.8" font-family='"Liberation Sans", sans-serif' font-size="9.0" font-weight="bold" fill="#000" stroke="#000" stroke-width="0.3" textLength="4.85" lengthAdjust="spacingAndGlyphs" >0</text>
<line x1="404.5" y1="412.05" x2="408.3" y2="412.05" stroke="#555" stroke-width="1" />
<text x="387.45" y="414.35" font-family='"Liberation Sans", sans-serif' font-size="9.0" font-weight="bold" fill="#000" stroke="#000" stroke-width="0.3" textLength="14.55" lengthAdjust="spacingAndGlyphs" >100</text>
<line x1="404.5" y1="385.6" x2="408.3" y2="385.6" stroke="#555" stroke-width="1" />
<text x="387.45" y="387.9" font-family='"Liberation Sans", sans-serif' font-size="9.0" font-weight="bold" fill="#000" stroke="#000" stroke-width="0.3" textLength="14.55" lengthAdjust="spacingAndGlyphs" >200</text>
<line x1="404.5" y1="359.15" x2="408.3" y2="359.15" stroke="#555" stroke-width="1" />
<text x="387.45" y="361.45" font-family='"Liberation Sans", sans-serif' font-size="9.0" font-weight="bold" fill="#000" stroke="#000" stroke-width="0.3" textLength="14.55" lengthAdjust="spacingAndGlyphs" >300</text>
<line x1="404.5" y1="332.7" x2="408.3" y2="332.7" stroke="#555" stroke-width="1" />
<text x="387.45" y="335" font-family='"Liberation Sans", sans-serif' font-size="9.0" font-weight="bold" fill="#000" stroke="#000" stroke-width="0.3" textLength="14.55" lengthAdjust="spacingAndGlyphs" >400</text>
<line x1="404.5" y1="306.25" x2="408.3" y2="306.25" stroke="#555" stroke-width="1" />
<text x="387.45" y="308.55" font-family='"Liberation Sans", sans-serif' font-size="9.0" font-weight="bold" fill="#000" stroke="#000" stroke-width="0.3" textLength="14.55" lengthAdjust="spacingAndGlyphs" >500</text>
<line x1="404.5" y1="279.8" x2="408.3" y2="279.8" stroke="#555" stroke-width="1" />
<text x="387.45" y="282.1" font-family='"Liberation Sans", sans-serif' font-size="9.0" font-weight="bold" fill="#000" stroke="#000" stroke-width="0.3" textLength="14.55" lengthAdjust="spacingAndGlyphs" >600</text>
<line x1="404.5" y1="253.35" x2="408.3" y2="253.35" stroke="#555" stroke-width="1" />
<text x="387.45" y="255.65" font-family='"Liberation Sans", sans-serif' font-size="9.0" font-weight="bold" fill="#000" stroke="#000" stroke-width="0.3" textLength="14.55" lengthAdjust="spacingAndGlyphs" >700</text>
<line x1="408.3" y1="484.2" x2="408.3" y2="486.7" stroke="#555" stroke-width="1" />
<line x1="430.49" y1="484.2" x2="430.49" y2="486.7" stroke="#555" stroke-width="1" />
<line x1="452.68" y1="484.2" x2="452.68" y2="486.7" stroke="#555" stroke-width="1" />
<line x1="474.86" y1="484.2" x2="474.86" y2="486.7" stroke="#555" stroke-width="1" />
<line x1="497.05" y1="484.2" x2="497.05" y2="486.7" stroke="#555" stroke-width="1" />
<line x1="519.24" y1="484.2" x2="519.24" y2="486.7" stroke="#555" stroke-width="1" />
<line x1="541.43" y1="484.2" x2="541.43" y2="486.7" stroke="#555" stroke-width="1" />
<line x1="563.62" y1="484.2" x2="563.62" y2="486.7" stroke="#555" stroke-width="1" />
<line x1="585.8" y1="484.2" x2="585.8" y2="486.7" stroke="#555" stroke-width="1" />
<line x1="607.99" y1="484.2" x2="607.99" y2="486.7" stroke="#555" stroke-width="1" />
<line x1="630.18" y1="484.2" x2="630.18" y2="486.7" stroke="#555" stroke-width="1" />
<line x1="652.37" y1="484.2" x2="652.37" y2="486.7" stroke="#555" stroke-width="1" />
<line x1="674.56" y1="484.2" x2="674.56" y2="486.7" stroke="#555" stroke-width="1" />
<text x="405.8" y="497.1" font-family='"Liberation Sans", sans-serif' font-size="9.0" font-weight="bold" fill="#000" stroke="#000" stroke-width="0.3" textLength="5.4" lengthAdjust="spacingAndGlyphs" >0</text>
<text x="447.48" y="497.1" font-family='"Liberation Sans", sans-serif' font-size="9.0" font-weight="bold" fill="#000" stroke="#000" stroke-width="0.3" textLength="10.8" lengthAdjust="spacingAndGlyphs" >24</text>
<text x="491.85" y="497.1" font-family='"Liberation Sans", sans-serif' font-size="9.0" font-weight="bold" fill="#000" stroke="#000" stroke-width="0.3" textLength="10.8" lengthAdjust="spacingAndGlyphs" >48</text>
<text x="536.23" y="497.1" font-family='"Liberation Sans", sans-serif' font-size="9.0" font-weight="bold" fill="#000" stroke="#000" stroke-width="0.3" textLength="10.8" lengthAdjust="spacingAndGlyphs" >72</text>
<text x="580.6" y="497.1" font-family='"Liberation Sans", sans-serif' font-size="9.0" font-weight="bold" fill="#000" stroke="#000" stroke-width="0.3" textLength="10.8" lengthAdjust="spacingAndGlyphs" >96</text>
<text x="622.28" y="497.1" font-family='"Liberation Sans", sans-serif' font-size="9.0" font-weight="bold" fill="#000" stroke="#000" stroke-width="0.3" textLength="16.2" lengthAdjust="spacingAndGlyphs" >120</text>
<text x="666.66" y="497.1" font-family='"Liberation Sans", sans-serif' font-size="9.0" font-weight="bold" fill="#000" stroke="#000" stroke-width="0.3" textLength="16.2" lengthAdjust="spacingAndGlyphs" >144</text>
<text x="497" y="513.5" font-family='"Liberation Sans", sans-serif' font-size="10.6" font-weight="bold" fill="#000" stroke="#000" stroke-width="0.3" textLength="78.5" lengthAdjust="spacingAndGlyphs" >Duration (Hours)</text>
<text x="357.5" y="245.7" font-family='"Liberation Sans", sans-serif' font-size="15.5" font-weight="bold" fill="#000" stroke="#000" stroke-width="0.3" textLength="13.9" lengthAdjust="spacingAndGlyphs" >d)</text>
<text transform="translate(365.1,434.2) rotate(-90)" font-family='"Liberation Sans", sans-serif' font-size="12.4" font-weight="bold" stroke="#000" stroke-width="0.2" textLength="153.5" lengthAdjust="spacingAndGlyphs">Cumulative flux difference</text>
<text transform="translate(380.1,418.8) rotate(-90)" font-family='"Liberation Sans", sans-serif' font-size="12" font-weight="bold" textLength="123.9" lengthAdjust="spacingAndGlyphs">( <tspan font-family='"Liberation Serif", serif' font-size="15">&#931;</tspan><tspan font-family='"Liberation Serif", serif' font-size="13.5">&#934;</tspan><tspan font-family='"Liberation Serif", serif' font-size="7.8" dy="3.4">Dry</tspan><tspan dy="-3.4"> - </tspan><tspan font-family='"Liberation Serif", serif' font-size="13.5">&#934;</tspan><tspan font-family='"Liberation Serif", serif' font-size="7.8" dy="3.4">Saturation degree</tspan><tspan dy="-3.4"> )</tspan></text>
<clipPath id="cd"><rect x="408.3" y="241.6" width="266.2" height="242.6"/></clipPath>
<g clip-path="url(#cd)">
<line x1="408.3" y1="438.5" x2="653.8" y2="241.6" stroke="#b04fc0" stroke-width="1.15" stroke-dasharray="4.5 3"/>
<line x1="408.3" y1="438.5" x2="674.5" y2="276.6" stroke="#ec2227" stroke-width="1.15" stroke-dasharray="4.5 3"/>
<line x1="408.3" y1="438.5" x2="674.5" y2="333.4" stroke="#3f57b5" stroke-width="1.15" stroke-dasharray="4.5 3"/>
<line x1="408.3" y1="438.5" x2="674.5" y2="397.8" stroke="#000" stroke-width="1.15" stroke-dasharray="4.5 3"/>
<polyline points="408.5,436.6 409.83,439.26 411.17,441.56 412.5,444 414.4,449.5 416.3,455.5 417.8,459.71 419.3,464.3 420.95,457.07 422.6,450.5 425.1,445.4 427,447.43 428.9,450.5 430.75,448.71 432.6,446.7 434.5,444.54 436.4,442.9 438.3,439.52 440.2,435.4 442.05,432.35 443.9,430.4 445.75,431.48 447.6,431.6 450.2,422.8 452.1,421.78 454,420.3 455.9,415.81 457.8,410.3 459.65,407.63 461.5,404 463.4,401.33 465.3,397.7 467.2,392.74 469.1,387.6 470.95,384.52 472.8,382.6 474.7,379.14 476.6,375.1 478.5,372.16 480.4,370 482.25,371.66 484.1,373.8 486,370.85 487.9,367.5 490,361.6 491.45,363.08 492.9,364.5 494.35,365.35 495.8,366.4 497.7,358.7 499.15,354.38 500.6,349 502.6,343.2 504.5,339.1 505.9,333.9 507.6,332.28 509.3,330.4 511.05,331.11 512.8,332.2 514.27,331.9 515.73,332.63 517.2,332.2 519.8,333.9 521.1,332.12 522.4,330.4 524.1,332.2 525.4,331.64 526.7,330.4 529.3,325.2 530.65,325.92 532,327 533.3,329.24 534.6,332.2 536.3,327 538,314.8 539.8,302.6 540.6,297.4 542.6,291.6 544.05,290.64 545.5,289.6 547.4,291.6 549.3,295.4 551.3,294.5 553.2,298.3 554.65,301.58 556.1,304.1 557.55,307.61 559,311.9 560.9,313.8 562.35,313.2 563.8,311.9 565.25,309.01 566.7,305.1 568.15,301.62 569.6,297.4 571.6,295.4 573.5,297.4 575.4,291.6 577.4,290.6 579.3,292.5 580.75,294.84 582.2,296.4 584.1,292.5 585,282.3 586.45,281.01 587.9,280.9 589.2,283.1 590.5,285 592.5,278 594.5,274.3 596.7,276.5 598.9,275 600.3,283.1 602.5,285.3 604.7,286 606.9,279.4 609.1,269.9 611.5,271 612.85,270.54 614.2,269.2 616.4,268.5 618.2,268.66 620,269.9 622.2,270.7 624.2,266 626.6,273.6 628.8,269.9 631,265.5 633.2,257.5 635.4,248.8 637.6,252.4 639.7,253.9 641.9,248 643.4,249.18 644.9,250.9 646.35,248.47 647.8,246.6 650,242.2 652.2,248.8 654.3,250.9 656.5,248 658.7,248.8 660.9,243.6 663.1,247.3 665.3,250.9 667.5,252.4 669.7,245.8 671.1,242.9 672.6,250.9 674.5,253.9" fill="none" stroke="#b04fc0" stroke-width="1.3" stroke-linejoin="round" />
<polyline points="408.5,436.6 409.82,440.11 411.15,443.46 412.48,446.99 413.8,450.5 415.7,453.93 417.6,456.7 419.45,456.75 421.3,458 423.2,458.07 425.1,459.2 427.6,453 430.1,456.7 432,451.85 433.9,447.9 435.8,444.95 437.7,442.9 439.55,438.63 441.4,435.4 443.9,432.9 445.2,427.17 446.5,420.3 448.35,417.58 450.2,414 452.1,410.35 454,407.7 455.9,408.35 457.8,409 460.3,402.7 462.15,399.98 464,397.7 465.9,388.68 467.8,380.1 470.3,372.6 472.8,380.1 475.4,375.1 477.07,374.09 478.73,373.61 480.4,372.6 482.25,372.05 484.1,371.3 486.7,380.1 489.2,382.6 491.05,384.98 492.9,387.7 494.2,390.23 495.5,393.29 496.8,396.4 498.25,392.55 499.7,389.6 501.15,386.77 502.6,383.8 504.05,379.26 505.5,374.2 506.95,370.66 508.4,367.4 509.85,362.55 511.3,358.7 512.75,360.26 514.2,362.6 515.65,365.35 517.1,368.4 519.5,367.4 521.9,359.7 523.35,355.93 524.8,351.9 526.25,351.79 527.7,351 529.15,347.91 530.6,345.1 532.6,350.9 534.05,348.36 535.5,345.1 537.4,335.5 539.3,327.7 541.3,330.6 543.2,338.4 544.65,336.1 546.1,333.5 547.55,336.32 549,339.3 550.45,338.2 551.9,337.4 553.35,339.8 554.8,342.2 557,341.5 558.3,343.54 559.6,345.1 561.05,343.55 562.5,342.2 563.95,340.53 565.4,338.4 566.85,338.8 568.3,339.3 569.75,335.64 571.2,332.6 572.65,330.19 574.1,327.7 576.1,335.5 577.55,337.63 579,339.3 580.5,339.29 582,340.3 583.4,341.66 584.8,343.2 585,341.4 586.3,345.66 587.6,350.1 588.9,352.76 590.2,354.5 592.8,350.1 594.15,349.77 595.5,348.4 596.8,348.65 598.1,349.2 599.4,350.98 600.7,351.8 602.4,354.1 603.7,348.55 605,342.3 606.3,337.66 607.6,333.6 608.95,329.16 610.3,324.8 611.6,319.15 612.9,314.4 614.6,311.8 615.9,309.98 617.2,307.4 618.9,308.3 620.7,303.9 623.3,302.2 624.6,303.24 625.9,303.9 627.7,306.6 629.4,297 630.7,297.01 632,296.1 633.35,295.15 634.7,293.5 635.4,289.6 637.6,294 639.7,299.1 641.9,294.7 644.1,288.2 646.3,282.3 647.75,281.05 649.2,279.4 650.7,278.58 652.2,277.2 653.6,288.2 655.8,283.8 658,277.2 659.45,273.28 660.9,269.2 662.35,266.52 663.8,264.8 666,267 668.2,263.4 669.65,262.01 671.1,260.4 672.8,259.81 674.5,260.4" fill="none" stroke="#ec2227" stroke-width="1.3" stroke-linejoin="round" />
<polyline points="408.5,436.6 409.83,437.44 411.17,439.46 412.5,440.4 415,445.4 416.9,440.4 418.8,445.4 421.3,442.9 423.8,440.4 425.7,435.45 427.6,431.6 430.1,432.9 432,429.26 433.9,426.6 435.8,424.22 437.7,422.8 439.55,420.76 441.4,417.8 443.9,411.5 445.2,413.01 446.5,415.3 449,420.3 451.5,412.8 453.4,410.98 455.3,410.3 457.8,411.5 460.3,409 462.15,413.16 464,416.5 465.3,416.7 466.6,417.8 469.1,410.3 470.95,406.91 472.8,402.7 475.4,397.7 477.9,405.2 480.4,401.5 482.25,401.71 484.1,401.5 486,401.25 487.9,400.2 490,397.4 491.95,398.39 493.9,398.3 495.35,400.34 496.8,402.2 498.25,401.11 499.7,399.3 501.15,394.59 502.6,391 504.05,386.77 505.5,381.9 506.95,378.06 508.4,374.2 509.85,368.66 511.3,362.6 512.75,360.18 514.2,358.7 515.65,357.55 517.1,355.8 518.55,357.27 520,357.7 521.45,354.27 522.9,351.9 524.8,349 526.25,349.79 527.7,351 529.15,349.13 530.6,347.1 532.05,346.49 533.5,345.1 534.95,343.84 536.4,343.2 538.4,337.4 539.85,336.52 541.3,336.4 542.75,338.05 544.2,340.3 545.65,339.94 547.1,339.3 548.55,342.05 550,344.2 551.45,346.47 552.9,349 554.35,351.74 555.8,354.8 557.25,359.53 558.7,364.5 560.15,366.72 561.6,369.3 563.05,366.8 564.5,364.5 565.95,360.6 567.4,357.7 568.85,356.25 570.3,354.8 571.75,354.42 573.2,352.9 575.1,355.8 577,362.6 578.45,362.95 579.9,363.5 581.35,362.85 582.8,361.6 585,364.9 586.3,366.69 587.6,369.3 588.9,370.38 590.2,371 592.8,371.9 594.6,369.3 596.3,373.6 598.1,377.1 599.4,376.56 600.7,375.4 603.3,372.8 604.6,371.26 605.9,369.3 607.2,367.57 608.5,365.8 609.8,364.48 611.1,363.2 612.9,350.1 614.6,348.4 615.9,348.97 617.2,349.2 619,355.3 620.7,357.1 622.5,355.3 623.8,353.18 625.1,350.1 626.4,350.53 627.7,351.8 629.4,352.7 630.7,350.47 632,349.2 633.35,349.1 634.7,348.4 636.4,349.2 637.7,353.2 639,356.2 640.3,358.82 641.6,361.4 643.4,363.2 645.1,358.8 646.4,356.98 647.7,355.3 650.3,350.1 651.65,349.91 653,349.2 654.7,351 657.3,348.4 658.65,348.87 660,350.1 662.5,345 664.3,346.6 666,349.2 667.3,350.22 668.6,351.8 669.9,353.19 671.2,355.3 672.85,355 674.5,354.5" fill="none" stroke="#3f57b5" stroke-width="1.3" stroke-linejoin="round" />
<polyline points="408.5,436.6 409.9,437.03 411.3,437.9 413.8,439.2 416.3,450.5 418.8,456.7 421.3,453 423.8,455.5 426.4,459.2 428.9,463 430.75,461.43 432.6,460.5 434.5,457.58 436.4,454.2 438.3,455.99 440.2,456.7 442.7,450.5 445,454.2 447.2,445.4 449.7,451.7 452.2,446.7 453.75,450.21 455.3,454.2 457.8,460.5 460.3,470.6 461.8,477.1 463.3,483.1 464.95,479.25 466.6,475.6 468.45,472.22 470.3,468 472.2,465.6 474.1,463 476,461.47 477.9,460.5 479.75,461.41 481.6,463 483.5,461.83 485.4,461.8 486.7,470.6 488.55,469.93 490.4,469.3 492.07,470.76 493.73,472.11 495.4,474.1 497.05,470.58 498.7,467.4 500.15,465.74 501.6,464.5 503.5,457.7 504.95,452.73 506.4,447.1 507.85,449.57 509.3,452.9 510.6,450.26 511.9,446.41 513.2,443.2 514.65,444.27 516.1,445.1 517.55,444.11 519,443.2 521,444 522.9,434.5 524.8,428.7 527,430 528.35,427.3 529.7,423.8 531.15,421.79 532.6,419 534.05,415.67 535.5,412.2 537.4,410.28 539.3,408.4 540.5,412 541.85,419.16 543.2,425.8 544.65,424.28 546.1,421.9 547.55,421.33 549,421 550.9,419 552.35,419.28 553.8,419 555.25,422.45 556.7,424.8 558.33,427.99 559.97,430.94 561.6,434.5 563.05,431.78 564.5,429.7 565.95,428.01 567.4,425.8 569.3,419 570.75,416.31 572.2,413.2 574.5,407.4 577,415.1 578.45,420.5 579.9,424.8 581.2,424.72 582.5,423.8 584.2,418 586.7,425.8 588.37,429.72 590.03,433.89 591.7,438.5 593.35,437.46 595,437 596.5,438.12 598,440 599.95,440.05 601.9,439.6 603.33,438.63 604.75,437.28 606.17,435.11 607.6,434 609.3,429.94 611,425 612.65,420.78 614.3,417 615.72,419.16 617.15,421.77 618.58,423.25 620,426 621.7,421.01 623.4,417 624.93,419.27 626.47,420.48 628,422.6 629.5,419.43 631,416.7 632.5,413.6 633.9,413.81 635.3,413.01 636.7,413.4 638.1,413.6 639.4,412.07 640.7,410.7 642.7,406.8 644.35,398.28 646,389.8 647.75,386 649.5,382.9 651.25,377.75 653,372.4 654.7,374.7 656.4,375.9 658.2,374.82 660,374 661.7,375 663.4,375.9 665.2,374.24 667,373.5 668.7,372.68 670.4,372.4 671.77,372.37 673.13,371.47 674.5,371.7" fill="none" stroke="#000" stroke-width="1.3" stroke-linejoin="round" />
</g>
<rect x="411.1" y="255.7" width="39.3" height="12.3" fill="#fff" stroke="none" stroke-width="1" />
<text x="414.2" y="264.3" font-family='"Liberation Sans", sans-serif' font-size="8.8" font-weight="bold" fill="#000" stroke="#000" stroke-width="0.3" textLength="31.7" lengthAdjust="spacingAndGlyphs" >Stage 1</text>
<rect x="500" y="255.7" width="38.9" height="12.3" fill="#fff" stroke="none" stroke-width="1" />
<text x="503.5" y="264.3" font-family='"Liberation Sans", sans-serif' font-size="8.8" font-weight="bold" fill="#000" stroke="#000" stroke-width="0.3" textLength="31.7" lengthAdjust="spacingAndGlyphs" >Stage 2</text>
<rect x="589" y="255.7" width="38.9" height="12.3" fill="#fff" stroke="none" stroke-width="1" />
<text x="592.5" y="264.3" font-family='"Liberation Sans", sans-serif' font-size="8.8" font-weight="bold" fill="#000" stroke="#000" stroke-width="0.3" textLength="31.7" lengthAdjust="spacingAndGlyphs" >Stage 3</text>
<rect x="409.1" y="275.5" width="132" height="59" fill="#fff" stroke="none" stroke-width="1" fill-opacity="0.82"/>
<text x="416.2" y="286.8" font-family='"Liberation Sans", sans-serif' font-size="9.0" font-weight="bold" fill="#000" stroke="#000" stroke-width="0.3" textLength="106.9" lengthAdjust="spacingAndGlyphs" >Cumlative flux difference</text>
<line x1="412.2" y1="296.3" x2="429.1" y2="296.3" stroke="#b04fc0" stroke-width="2.7" />
<text x="433.6" y="300.1" font-family='"Liberation Sans", sans-serif' font-size="8.8" font-weight="bold" fill="#b04fc0" stroke="#b04fc0" stroke-width="0.3" textLength="42.9" lengthAdjust="spacingAndGlyphs" >0% - 100%</text>
<text x="481.4" y="298.9" font-family='"Liberation Serif", serif' font-size="10.4" font-weight="bold" fill="#b04fc0" stroke="#b04fc0" stroke-width="0.3" textLength="7.8" lengthAdjust="spacingAndGlyphs" >&#934;</text>
<text x="489.3" y="302.2" font-family='"Liberation Serif", serif' font-size="6.2" font-weight="bold" fill="#b04fc0" stroke="#b04fc0" stroke-width="0.3" textLength="3.3" lengthAdjust="spacingAndGlyphs" >&#955;</text>
<text x="494.9" y="298.6" font-family='"Liberation Sans", sans-serif' font-size="8.8" font-weight="bold" fill="#b04fc0" stroke="#b04fc0" stroke-width="0.3" textLength="30.7" lengthAdjust="spacingAndGlyphs" >= 5.74x</text>
<line x1="412.2" y1="306.95" x2="429.1" y2="306.95" stroke="#ec2227" stroke-width="2.7" />
<text x="433.6" y="310.75" font-family='"Liberation Sans", sans-serif' font-size="8.8" font-weight="bold" fill="#ec2227" stroke="#ec2227" stroke-width="0.3" textLength="38.4" lengthAdjust="spacingAndGlyphs" >0% - 75%</text>
<text x="481.4" y="309.15" font-family='"Liberation Serif", serif' font-size="10.4" font-weight="bold" fill="#ec2227" stroke="#ec2227" stroke-width="0.3" textLength="7.8" lengthAdjust="spacingAndGlyphs" >&#934;</text>
<text x="489.3" y="312.45" font-family='"Liberation Serif", serif' font-size="6.2" font-weight="bold" fill="#ec2227" stroke="#ec2227" stroke-width="0.3" textLength="3.3" lengthAdjust="spacingAndGlyphs" >&#955;</text>
<text x="494.9" y="308.85" font-family='"Liberation Sans", sans-serif' font-size="8.8" font-weight="bold" fill="#ec2227" stroke="#ec2227" stroke-width="0.3" textLength="30.7" lengthAdjust="spacingAndGlyphs" >= 4.37x</text>
<line x1="412.2" y1="317.6" x2="429.1" y2="317.6" stroke="#3f57b5" stroke-width="2.7" />
<text x="433.6" y="321.4" font-family='"Liberation Sans", sans-serif' font-size="8.8" font-weight="bold" fill="#3f57b5" stroke="#3f57b5" stroke-width="0.3" textLength="38.4" lengthAdjust="spacingAndGlyphs" >0% - 50%</text>
<text x="481.4" y="319.4" font-family='"Liberation Serif", serif' font-size="10.4" font-weight="bold" fill="#3f57b5" stroke="#3f57b5" stroke-width="0.3" textLength="7.8" lengthAdjust="spacingAndGlyphs" >&#934;</text>
<text x="489.3" y="322.7" font-family='"Liberation Serif", serif' font-size="6.2" font-weight="bold" fill="#3f57b5" stroke="#3f57b5" stroke-width="0.3" textLength="3.3" lengthAdjust="spacingAndGlyphs" >&#955;</text>
<text x="494.9" y="319.1" font-family='"Liberation Sans", sans-serif' font-size="8.8" font-weight="bold" fill="#3f57b5" stroke="#3f57b5" stroke-width="0.3" textLength="30.7" lengthAdjust="spacingAndGlyphs" >= 3.23x</text>
<line x1="412.2" y1="328.25" x2="429.1" y2="328.25" stroke="#000" stroke-width="2.7" />
<text x="433.6" y="332.05" font-family='"Liberation Sans", sans-serif' font-size="8.8" font-weight="bold" fill="#000" stroke="#000" stroke-width="0.3" textLength="38.4" lengthAdjust="spacingAndGlyphs" >0% - 25%</text>
<text x="481.4" y="329.65" font-family='"Liberation Serif", serif' font-size="10.4" font-weight="bold" fill="#000" stroke="#000" stroke-width="0.3" textLength="7.8" lengthAdjust="spacingAndGlyphs" >&#934;</text>
<text x="489.3" y="332.95" font-family='"Liberation Serif", serif' font-size="6.2" font-weight="bold" fill="#000" stroke="#000" stroke-width="0.3" textLength="3.3" lengthAdjust="spacingAndGlyphs" >&#955;</text>
<text x="494.9" y="329.35" font-family='"Liberation Sans", sans-serif' font-size="8.8" font-weight="bold" fill="#000" stroke="#000" stroke-width="0.3" textLength="30.7" lengthAdjust="spacingAndGlyphs" >= 0.86x</text>
</svg>
</body></html>
